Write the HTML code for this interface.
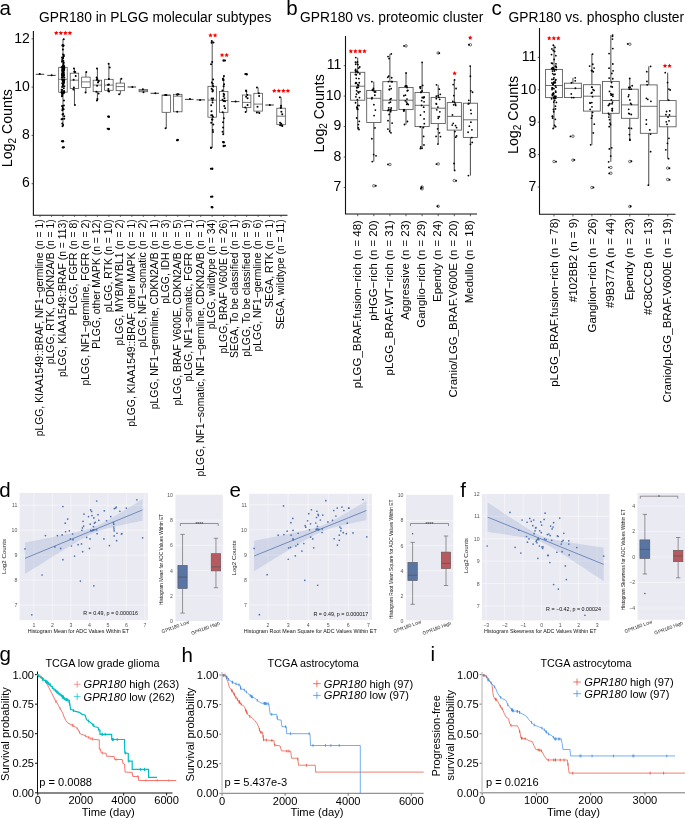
<!DOCTYPE html>
<html><head><meta charset="utf-8"><style>
html,body{margin:0;padding:0;background:#fff;width:685px;height:818px;overflow:hidden}
svg{display:block;will-change:transform;font-family:"Liberation Sans",sans-serif}
</style></head><body>
<svg width="685" height="818" viewBox="0 0 685 818">
<rect width="685" height="818" fill="#fff"/>
<text x="-0.50" y="14.70" text-anchor="start" fill="#000" style="font-size:20.5px;" >a</text>
<text x="286.30" y="14.70" text-anchor="start" fill="#000" style="font-size:20.5px;" >b</text>
<text x="491.60" y="14.70" text-anchor="start" fill="#000" style="font-size:20.5px;" >c</text>
<text x="-0.80" y="496.70" text-anchor="start" fill="#000" style="font-size:20.5px;" >d</text>
<text x="229.40" y="497.20" text-anchor="start" fill="#000" style="font-size:20.5px;" >e</text>
<text x="460.20" y="497.20" text-anchor="start" fill="#000" style="font-size:20.5px;" >f</text>
<text x="-0.60" y="660.80" text-anchor="start" fill="#000" style="font-size:20.5px;" >g</text>
<text x="181.60" y="661.50" text-anchor="start" fill="#000" style="font-size:20.5px;" >h</text>
<text x="430.60" y="660.80" text-anchor="start" fill="#000" style="font-size:20.5px;" >i</text>
<line x1="33.40" y1="31.00" x2="33.40" y2="215.30" stroke="#111" stroke-width="1.1" />
<line x1="32.90" y1="215.30" x2="287.50" y2="215.30" stroke="#111" stroke-width="1.1" />
<line x1="31.60" y1="38.80" x2="33.40" y2="38.80" stroke="#333" stroke-width="0.8" />
<text x="29.80" y="42.50" text-anchor="end" fill="#000" style="font-size:14.0px;" >12</text>
<line x1="31.60" y1="87.10" x2="33.40" y2="87.10" stroke="#333" stroke-width="0.8" />
<text x="29.80" y="90.80" text-anchor="end" fill="#000" style="font-size:14.0px;" >10</text>
<line x1="31.60" y1="135.40" x2="33.40" y2="135.40" stroke="#333" stroke-width="0.8" />
<text x="29.80" y="139.10" text-anchor="end" fill="#000" style="font-size:14.0px;" >8</text>
<line x1="31.60" y1="183.70" x2="33.40" y2="183.70" stroke="#333" stroke-width="0.8" />
<text x="29.80" y="187.40" text-anchor="end" fill="#000" style="font-size:14.0px;" >6</text>
<text x="39.00" y="21.90" text-anchor="start" fill="#000" style="font-size:13.8px;" >GPR180 in PLGG molecular subtypes</text>
<text transform="translate(12.3,167.2) rotate(-90)" style="font-size:14.2px" fill="#000">Log<tspan dy="3.5" style="font-size:10px">2</tspan><tspan dy="-3.5"> Counts</tspan></text>
<line x1="40.00" y1="215.30" x2="40.00" y2="216.90" stroke="#333" stroke-width="0.8" />
<text transform="translate(43.00,219.20) rotate(-90)" text-anchor="end" fill="#000" style="font-size:10.4px;" >pLGG, KIAA1549::BRAF, NF1−germline (n = 1)</text>
<line x1="51.48" y1="215.30" x2="51.48" y2="216.90" stroke="#333" stroke-width="0.8" />
<text transform="translate(54.48,219.20) rotate(-90)" text-anchor="end" fill="#000" style="font-size:10.4px;" >pLGG, RTK, CDKN2A/B (n = 1)</text>
<line x1="62.96" y1="215.30" x2="62.96" y2="216.90" stroke="#333" stroke-width="0.8" />
<text transform="translate(65.96,219.20) rotate(-90)" text-anchor="end" fill="#000" style="font-size:10.4px;" >pLGG, KIAA1549::BRAF (n = 113)</text>
<line x1="74.44" y1="215.30" x2="74.44" y2="216.90" stroke="#333" stroke-width="0.8" />
<text transform="translate(77.44,219.20) rotate(-90)" text-anchor="end" fill="#000" style="font-size:10.4px;" >PLGG, FGFR (n = 8)</text>
<line x1="85.92" y1="215.30" x2="85.92" y2="216.90" stroke="#333" stroke-width="0.8" />
<text transform="translate(88.92,219.20) rotate(-90)" text-anchor="end" fill="#000" style="font-size:10.4px;" >pLGG, NF1−germline, FGFR (n = 2)</text>
<line x1="97.40" y1="215.30" x2="97.40" y2="216.90" stroke="#333" stroke-width="0.8" />
<text transform="translate(100.40,219.20) rotate(-90)" text-anchor="end" fill="#000" style="font-size:10.4px;" >PLGG, other MAPK (n = 12)</text>
<line x1="108.88" y1="215.30" x2="108.88" y2="216.90" stroke="#333" stroke-width="0.8" />
<text transform="translate(111.88,219.20) rotate(-90)" text-anchor="end" fill="#000" style="font-size:10.4px;" >pLGG, RTK (n = 10)</text>
<line x1="120.36" y1="215.30" x2="120.36" y2="216.90" stroke="#333" stroke-width="0.8" />
<text transform="translate(123.36,219.20) rotate(-90)" text-anchor="end" fill="#000" style="font-size:10.4px;" >pLGG, MYB/MYBL1 (n = 2)</text>
<line x1="131.84" y1="215.30" x2="131.84" y2="216.90" stroke="#333" stroke-width="0.8" />
<text transform="translate(134.84,219.20) rotate(-90)" text-anchor="end" fill="#000" style="font-size:10.4px;" >pLGG, KIAA1549::BRAF, other MAPK (n = 1)</text>
<line x1="143.32" y1="215.30" x2="143.32" y2="216.90" stroke="#333" stroke-width="0.8" />
<text transform="translate(146.32,219.20) rotate(-90)" text-anchor="end" fill="#000" style="font-size:10.4px;" >pLGG, NF1−somatic (n = 2)</text>
<line x1="154.80" y1="215.30" x2="154.80" y2="216.90" stroke="#333" stroke-width="0.8" />
<text transform="translate(157.80,219.20) rotate(-90)" text-anchor="end" fill="#000" style="font-size:10.4px;" >pLGG, NF1−germline, CDKN2A/B (n = 1)</text>
<line x1="166.28" y1="215.30" x2="166.28" y2="216.90" stroke="#333" stroke-width="0.8" />
<text transform="translate(169.28,219.20) rotate(-90)" text-anchor="end" fill="#000" style="font-size:10.4px;" >pLGG, IDH (n = 3)</text>
<line x1="177.76" y1="215.30" x2="177.76" y2="216.90" stroke="#333" stroke-width="0.8" />
<text transform="translate(180.76,219.20) rotate(-90)" text-anchor="end" fill="#000" style="font-size:10.4px;" >pLGG, BRAF V600E, CDKN2A/B (n = 5)</text>
<line x1="189.24" y1="215.30" x2="189.24" y2="216.90" stroke="#333" stroke-width="0.8" />
<text transform="translate(192.24,219.20) rotate(-90)" text-anchor="end" fill="#000" style="font-size:10.4px;" >pLGG, NF1−somatic, FGFR (n = 1)</text>
<line x1="200.72" y1="215.30" x2="200.72" y2="216.90" stroke="#333" stroke-width="0.8" />
<text transform="translate(203.72,219.20) rotate(-90)" text-anchor="end" fill="#000" style="font-size:10.4px;" >pLGG, NF1−somatic, NF1−germline, CDKN2A/B (n = 1)</text>
<line x1="212.20" y1="215.30" x2="212.20" y2="216.90" stroke="#333" stroke-width="0.8" />
<text transform="translate(215.20,219.20) rotate(-90)" text-anchor="end" fill="#000" style="font-size:10.4px;" >pLGG, wildtype (n = 34)</text>
<line x1="223.68" y1="215.30" x2="223.68" y2="216.90" stroke="#333" stroke-width="0.8" />
<text transform="translate(226.68,219.20) rotate(-90)" text-anchor="end" fill="#000" style="font-size:10.4px;" >pLGG, BRAF V600E (n = 26)</text>
<line x1="235.16" y1="215.30" x2="235.16" y2="216.90" stroke="#333" stroke-width="0.8" />
<text transform="translate(238.16,219.20) rotate(-90)" text-anchor="end" fill="#000" style="font-size:10.4px;" >SEGA, To be classified (n = 1)</text>
<line x1="246.64" y1="215.30" x2="246.64" y2="216.90" stroke="#333" stroke-width="0.8" />
<text transform="translate(249.64,219.20) rotate(-90)" text-anchor="end" fill="#000" style="font-size:10.4px;" >pLGG, To be classified (n = 9)</text>
<line x1="258.12" y1="215.30" x2="258.12" y2="216.90" stroke="#333" stroke-width="0.8" />
<text transform="translate(261.12,219.20) rotate(-90)" text-anchor="end" fill="#000" style="font-size:10.4px;" >pLGG, NF1−germline (n = 6)</text>
<line x1="269.60" y1="215.30" x2="269.60" y2="216.90" stroke="#333" stroke-width="0.8" />
<text transform="translate(272.60,219.20) rotate(-90)" text-anchor="end" fill="#000" style="font-size:10.4px;" >SEGA, RTK (n = 1)</text>
<line x1="281.08" y1="215.30" x2="281.08" y2="216.90" stroke="#333" stroke-width="0.8" />
<text transform="translate(284.08,219.20) rotate(-90)" text-anchor="end" fill="#000" style="font-size:10.4px;" >SEGA, wildtype (n = 11)</text>
<line x1="35.75" y1="74.30" x2="44.25" y2="74.30" stroke="#222" stroke-width="0.9" />
<circle cx="39.75" cy="74.09" r="1.0" fill="#000" />
<line x1="47.23" y1="75.40" x2="55.73" y2="75.40" stroke="#222" stroke-width="0.9" />
<circle cx="51.69" cy="75.14" r="1.0" fill="#000" />
<line x1="62.96" y1="39.20" x2="62.96" y2="67.30" stroke="#1a1a1a" stroke-width="0.75" />
<line x1="62.96" y1="92.20" x2="62.96" y2="126.20" stroke="#1a1a1a" stroke-width="0.75" />
<rect x="58.71" y="67.30" width="8.50" height="24.90" fill="none" stroke="#4a4a4a" stroke-width="0.75" />
<line x1="58.71" y1="79.30" x2="67.21" y2="79.30" stroke="#4a4a4a" stroke-width="0.75" />
<circle cx="63.74" cy="39.20" r="1.0" fill="#000" />
<circle cx="62.48" cy="126.20" r="1.0" fill="#000" />
<circle cx="62.18" cy="57.57" r="1.0" fill="#000" />
<circle cx="63.83" cy="68.00" r="1.0" fill="#000" />
<circle cx="64.32" cy="79.78" r="1.0" fill="#000" />
<circle cx="63.95" cy="100.42" r="1.0" fill="#000" />
<circle cx="63.82" cy="67.00" r="1.0" fill="#000" />
<circle cx="63.85" cy="72.39" r="1.0" fill="#000" />
<circle cx="63.63" cy="80.90" r="1.0" fill="#000" />
<circle cx="62.19" cy="94.86" r="1.0" fill="#000" />
<circle cx="63.01" cy="54.58" r="1.0" fill="#000" />
<circle cx="62.56" cy="74.23" r="1.0" fill="#000" />
<circle cx="61.64" cy="91.89" r="1.0" fill="#000" />
<circle cx="61.64" cy="92.39" r="1.0" fill="#000" />
<circle cx="62.34" cy="45.62" r="1.0" fill="#000" />
<circle cx="62.29" cy="69.03" r="1.0" fill="#000" />
<circle cx="63.50" cy="83.28" r="1.0" fill="#000" />
<circle cx="64.24" cy="116.27" r="1.0" fill="#000" />
<circle cx="62.81" cy="65.77" r="1.0" fill="#000" />
<circle cx="64.18" cy="74.97" r="1.0" fill="#000" />
<circle cx="64.33" cy="86.37" r="1.0" fill="#000" />
<circle cx="64.23" cy="92.51" r="1.0" fill="#000" />
<circle cx="62.58" cy="67.07" r="1.0" fill="#000" />
<circle cx="62.18" cy="75.46" r="1.0" fill="#000" />
<circle cx="62.20" cy="83.35" r="1.0" fill="#000" />
<circle cx="62.11" cy="105.89" r="1.0" fill="#000" />
<circle cx="62.13" cy="59.98" r="1.0" fill="#000" />
<circle cx="63.31" cy="76.83" r="1.0" fill="#000" />
<circle cx="64.08" cy="82.45" r="1.0" fill="#000" />
<circle cx="63.91" cy="105.45" r="1.0" fill="#000" />
<circle cx="62.90" cy="57.90" r="1.0" fill="#000" />
<circle cx="63.39" cy="76.05" r="1.0" fill="#000" />
<circle cx="63.80" cy="91.94" r="1.0" fill="#000" />
<circle cx="61.80" cy="93.10" r="1.0" fill="#000" />
<circle cx="63.41" cy="60.92" r="1.0" fill="#000" />
<circle cx="64.11" cy="69.12" r="1.0" fill="#000" />
<circle cx="63.75" cy="79.81" r="1.0" fill="#000" />
<circle cx="63.66" cy="109.33" r="1.0" fill="#000" />
<circle cx="62.90" cy="49.50" r="1.0" fill="#000" />
<circle cx="62.06" cy="77.81" r="1.0" fill="#000" />
<circle cx="63.77" cy="88.27" r="1.0" fill="#000" />
<circle cx="62.49" cy="106.24" r="1.0" fill="#000" />
<circle cx="63.80" cy="56.17" r="1.0" fill="#000" />
<circle cx="64.28" cy="77.38" r="1.0" fill="#000" />
<circle cx="62.67" cy="85.42" r="1.0" fill="#000" />
<circle cx="62.68" cy="109.16" r="1.0" fill="#000" />
<circle cx="64.21" cy="67.06" r="1.0" fill="#000" />
<circle cx="63.59" cy="75.07" r="1.0" fill="#000" />
<circle cx="62.04" cy="89.90" r="1.0" fill="#000" />
<circle cx="61.92" cy="96.21" r="1.0" fill="#000" />
<circle cx="61.98" cy="61.73" r="1.0" fill="#000" />
<circle cx="64.09" cy="67.57" r="1.0" fill="#000" />
<circle cx="63.82" cy="81.47" r="1.0" fill="#000" />
<circle cx="61.97" cy="93.09" r="1.0" fill="#000" />
<circle cx="63.87" cy="67.07" r="1.0" fill="#000" />
<circle cx="64.30" cy="68.85" r="1.0" fill="#000" />
<circle cx="63.40" cy="84.34" r="1.0" fill="#000" />
<circle cx="62.54" cy="119.11" r="1.0" fill="#000" />
<circle cx="63.10" cy="66.91" r="1.0" fill="#000" />
<circle cx="61.93" cy="73.89" r="1.0" fill="#000" />
<circle cx="61.60" cy="89.87" r="1.0" fill="#000" />
<circle cx="64.28" cy="118.72" r="1.0" fill="#000" />
<circle cx="63.38" cy="64.10" r="1.0" fill="#000" />
<circle cx="63.03" cy="71.61" r="1.0" fill="#000" />
<circle cx="64.17" cy="91.65" r="1.0" fill="#000" />
<circle cx="62.77" cy="93.57" r="1.0" fill="#000" />
<circle cx="64.00" cy="65.83" r="1.0" fill="#000" />
<circle cx="63.87" cy="70.10" r="1.0" fill="#000" />
<circle cx="62.15" cy="86.90" r="1.0" fill="#000" />
<circle cx="62.27" cy="95.71" r="1.0" fill="#000" />
<circle cx="62.38" cy="67.30" r="1.0" fill="#000" />
<circle cx="62.23" cy="71.73" r="1.0" fill="#000" />
<circle cx="63.20" cy="91.59" r="1.0" fill="#000" />
<circle cx="62.29" cy="110.32" r="1.0" fill="#000" />
<circle cx="62.73" cy="58.19" r="1.0" fill="#000" />
<circle cx="61.93" cy="75.41" r="1.0" fill="#000" />
<circle cx="64.11" cy="90.90" r="1.0" fill="#000" />
<circle cx="62.55" cy="114.48" r="1.0" fill="#000" />
<circle cx="62.84" cy="44.93" r="1.0" fill="#000" />
<circle cx="63.19" cy="72.01" r="1.0" fill="#000" />
<circle cx="64.09" cy="80.64" r="1.0" fill="#000" />
<circle cx="62.74" cy="107.88" r="1.0" fill="#000" />
<circle cx="64.13" cy="67.05" r="1.0" fill="#000" />
<circle cx="62.96" cy="69.81" r="1.0" fill="#000" />
<circle cx="63.05" cy="83.69" r="1.0" fill="#000" />
<circle cx="63.03" cy="92.43" r="1.0" fill="#000" />
<circle cx="61.61" cy="67.30" r="1.0" fill="#000" />
<circle cx="62.79" cy="68.52" r="1.0" fill="#000" />
<circle cx="62.07" cy="79.63" r="1.0" fill="#000" />
<circle cx="61.57" cy="119.26" r="1.0" fill="#000" />
<circle cx="63.80" cy="55.03" r="1.0" fill="#000" />
<circle cx="62.04" cy="70.33" r="1.0" fill="#000" />
<circle cx="62.89" cy="84.00" r="1.0" fill="#000" />
<circle cx="63.59" cy="93.16" r="1.0" fill="#000" />
<circle cx="63.12" cy="46.03" r="1.0" fill="#000" />
<circle cx="62.47" cy="72.89" r="1.0" fill="#000" />
<circle cx="63.01" cy="80.41" r="1.0" fill="#000" />
<circle cx="63.12" cy="92.90" r="1.0" fill="#000" />
<circle cx="63.76" cy="62.75" r="1.0" fill="#000" />
<circle cx="61.86" cy="77.25" r="1.0" fill="#000" />
<circle cx="63.13" cy="79.60" r="1.0" fill="#000" />
<circle cx="62.26" cy="123.42" r="1.0" fill="#000" />
<circle cx="62.34" cy="57.80" r="1.0" fill="#000" />
<circle cx="63.72" cy="73.82" r="1.0" fill="#000" />
<circle cx="62.98" cy="86.11" r="1.0" fill="#000" />
<circle cx="63.13" cy="124.97" r="1.0" fill="#000" />
<circle cx="63.69" cy="45.41" r="1.0" fill="#000" />
<circle cx="64.11" cy="70.43" r="1.0" fill="#000" />
<circle cx="62.80" cy="81.45" r="1.0" fill="#000" />
<circle cx="63.28" cy="114.10" r="1.0" fill="#000" />
<circle cx="62.98" cy="57.67" r="1.0" fill="#000" />
<circle cx="62.96" cy="141.30" r="1.2" fill="#000" />
<circle cx="61.81" cy="141.27" r="1.0" fill="#000" />
<circle cx="62.96" cy="147.40" r="1.2" fill="#000" />
<circle cx="63.97" cy="147.25" r="1.0" fill="#000" />
<line x1="74.44" y1="68.50" x2="74.44" y2="73.20" stroke="#1a1a1a" stroke-width="0.75" />
<line x1="74.44" y1="88.50" x2="74.44" y2="105.00" stroke="#1a1a1a" stroke-width="0.75" />
<rect x="70.19" y="73.20" width="8.50" height="15.30" fill="none" stroke="#4a4a4a" stroke-width="0.75" />
<line x1="70.19" y1="80.20" x2="78.69" y2="80.20" stroke="#4a4a4a" stroke-width="0.75" />
<circle cx="73.92" cy="68.50" r="1.0" fill="#000" />
<circle cx="74.92" cy="105.00" r="1.0" fill="#000" />
<circle cx="74.24" cy="71.64" r="1.0" fill="#000" />
<circle cx="73.64" cy="79.69" r="1.0" fill="#000" />
<circle cx="73.89" cy="87.61" r="1.0" fill="#000" />
<circle cx="73.38" cy="89.59" r="1.0" fill="#000" />
<circle cx="75.22" cy="72.00" r="1.0" fill="#000" />
<circle cx="75.67" cy="75.95" r="1.0" fill="#000" />
<line x1="85.92" y1="72.00" x2="85.92" y2="77.10" stroke="#1a1a1a" stroke-width="0.75" />
<line x1="85.92" y1="87.50" x2="85.92" y2="92.40" stroke="#1a1a1a" stroke-width="0.75" />
<rect x="81.67" y="77.10" width="8.50" height="10.40" fill="none" stroke="#4a4a4a" stroke-width="0.75" />
<line x1="81.67" y1="81.90" x2="90.17" y2="81.90" stroke="#4a4a4a" stroke-width="0.75" />
<circle cx="86.32" cy="72.00" r="1.0" fill="#000" />
<circle cx="85.55" cy="92.40" r="1.0" fill="#000" />
<line x1="97.40" y1="68.50" x2="97.40" y2="80.20" stroke="#1a1a1a" stroke-width="0.75" />
<line x1="97.40" y1="91.70" x2="97.40" y2="100.60" stroke="#1a1a1a" stroke-width="0.75" />
<rect x="93.15" y="80.20" width="8.50" height="11.50" fill="none" stroke="#4a4a4a" stroke-width="0.75" />
<line x1="93.15" y1="85.10" x2="101.65" y2="85.10" stroke="#4a4a4a" stroke-width="0.75" />
<circle cx="97.02" cy="68.50" r="1.0" fill="#000" />
<circle cx="96.95" cy="100.60" r="1.0" fill="#000" />
<circle cx="97.28" cy="79.07" r="1.0" fill="#000" />
<circle cx="97.97" cy="82.49" r="1.0" fill="#000" />
<circle cx="97.08" cy="85.72" r="1.0" fill="#000" />
<circle cx="97.45" cy="98.93" r="1.0" fill="#000" />
<circle cx="96.83" cy="79.67" r="1.0" fill="#000" />
<circle cx="98.69" cy="81.30" r="1.0" fill="#000" />
<circle cx="96.32" cy="91.66" r="1.0" fill="#000" />
<circle cx="98.57" cy="93.60" r="1.0" fill="#000" />
<circle cx="96.64" cy="77.51" r="1.0" fill="#000" />
<circle cx="98.45" cy="80.65" r="1.0" fill="#000" />
<line x1="108.88" y1="63.70" x2="108.88" y2="79.30" stroke="#1a1a1a" stroke-width="0.75" />
<line x1="108.88" y1="90.30" x2="108.88" y2="91.40" stroke="#1a1a1a" stroke-width="0.75" />
<rect x="104.63" y="79.30" width="8.50" height="11.00" fill="none" stroke="#4a4a4a" stroke-width="0.75" />
<line x1="104.63" y1="85.10" x2="113.13" y2="85.10" stroke="#4a4a4a" stroke-width="0.75" />
<circle cx="108.62" cy="63.70" r="1.0" fill="#000" />
<circle cx="108.98" cy="91.40" r="1.0" fill="#000" />
<circle cx="108.92" cy="79.07" r="1.0" fill="#000" />
<circle cx="108.86" cy="84.55" r="1.0" fill="#000" />
<circle cx="108.40" cy="89.03" r="1.0" fill="#000" />
<circle cx="108.26" cy="91.08" r="1.0" fill="#000" />
<circle cx="109.72" cy="67.48" r="1.0" fill="#000" />
<circle cx="107.99" cy="84.79" r="1.0" fill="#000" />
<circle cx="108.88" cy="116.80" r="1.2" fill="#000" />
<circle cx="108.06" cy="116.51" r="1.0" fill="#000" />
<circle cx="108.88" cy="129.00" r="1.2" fill="#000" />
<circle cx="107.64" cy="128.75" r="1.0" fill="#000" />
<line x1="120.36" y1="78.70" x2="120.36" y2="83.10" stroke="#1a1a1a" stroke-width="0.75" />
<line x1="120.36" y1="90.70" x2="120.36" y2="94.30" stroke="#1a1a1a" stroke-width="0.75" />
<rect x="116.11" y="83.10" width="8.50" height="7.60" fill="none" stroke="#4a4a4a" stroke-width="0.75" />
<line x1="116.11" y1="86.60" x2="124.61" y2="86.60" stroke="#4a4a4a" stroke-width="0.75" />
<circle cx="121.36" cy="78.70" r="1.0" fill="#000" />
<circle cx="119.15" cy="94.30" r="1.0" fill="#000" />
<line x1="127.59" y1="87.00" x2="136.09" y2="87.00" stroke="#222" stroke-width="0.9" />
<circle cx="132.35" cy="86.97" r="1.0" fill="#000" />
<line x1="143.32" y1="89.20" x2="143.32" y2="89.60" stroke="#1a1a1a" stroke-width="0.75" />
<line x1="143.32" y1="91.80" x2="143.32" y2="92.20" stroke="#1a1a1a" stroke-width="0.75" />
<rect x="139.07" y="89.60" width="8.50" height="2.20" fill="none" stroke="#4a4a4a" stroke-width="0.75" />
<line x1="139.07" y1="90.70" x2="147.57" y2="90.70" stroke="#4a4a4a" stroke-width="0.75" />
<circle cx="142.87" cy="89.20" r="1.0" fill="#000" />
<circle cx="143.47" cy="92.20" r="1.0" fill="#000" />
<line x1="150.55" y1="93.30" x2="159.05" y2="93.30" stroke="#222" stroke-width="0.9" />
<circle cx="155.40" cy="93.16" r="1.0" fill="#000" />
<line x1="166.28" y1="95.00" x2="166.28" y2="95.00" stroke="#1a1a1a" stroke-width="0.75" />
<line x1="166.28" y1="112.30" x2="166.28" y2="128.30" stroke="#1a1a1a" stroke-width="0.75" />
<rect x="162.03" y="95.00" width="8.50" height="17.30" fill="none" stroke="#4a4a4a" stroke-width="0.75" />
<line x1="162.03" y1="95.40" x2="170.53" y2="95.40" stroke="#4a4a4a" stroke-width="0.75" />
<circle cx="166.36" cy="95.00" r="1.0" fill="#000" />
<circle cx="165.55" cy="128.30" r="1.0" fill="#000" />
<circle cx="165.19" cy="95.00" r="1.0" fill="#000" />
<line x1="177.76" y1="94.30" x2="177.76" y2="94.30" stroke="#1a1a1a" stroke-width="0.75" />
<line x1="177.76" y1="111.80" x2="177.76" y2="111.80" stroke="#1a1a1a" stroke-width="0.75" />
<rect x="173.51" y="94.30" width="8.50" height="17.50" fill="none" stroke="#4a4a4a" stroke-width="0.75" />
<line x1="173.51" y1="96.20" x2="182.01" y2="96.20" stroke="#4a4a4a" stroke-width="0.75" />
<circle cx="177.23" cy="94.30" r="1.0" fill="#000" />
<circle cx="177.21" cy="111.80" r="1.0" fill="#000" />
<circle cx="178.49" cy="94.30" r="1.0" fill="#000" />
<circle cx="177.17" cy="94.68" r="1.0" fill="#000" />
<circle cx="177.76" cy="140.00" r="1.2" fill="#000" />
<circle cx="176.94" cy="140.18" r="1.0" fill="#000" />
<line x1="184.99" y1="99.40" x2="193.49" y2="99.40" stroke="#222" stroke-width="0.9" />
<circle cx="189.93" cy="99.12" r="1.0" fill="#000" />
<line x1="196.47" y1="99.90" x2="204.97" y2="99.90" stroke="#222" stroke-width="0.9" />
<circle cx="200.05" cy="99.90" r="1.0" fill="#000" />
<line x1="212.20" y1="41.10" x2="212.20" y2="86.30" stroke="#1a1a1a" stroke-width="0.75" />
<line x1="212.20" y1="117.20" x2="212.20" y2="148.00" stroke="#1a1a1a" stroke-width="0.75" />
<rect x="207.95" y="86.30" width="8.50" height="30.90" fill="none" stroke="#4a4a4a" stroke-width="0.75" />
<line x1="207.95" y1="100.10" x2="216.45" y2="100.10" stroke="#4a4a4a" stroke-width="0.75" />
<circle cx="211.74" cy="41.10" r="1.0" fill="#000" />
<circle cx="211.03" cy="148.00" r="1.0" fill="#000" />
<circle cx="211.58" cy="42.77" r="1.0" fill="#000" />
<circle cx="212.64" cy="89.69" r="1.0" fill="#000" />
<circle cx="211.49" cy="111.36" r="1.0" fill="#000" />
<circle cx="212.97" cy="132.01" r="1.0" fill="#000" />
<circle cx="211.05" cy="64.20" r="1.0" fill="#000" />
<circle cx="213.09" cy="98.56" r="1.0" fill="#000" />
<circle cx="211.20" cy="105.36" r="1.0" fill="#000" />
<circle cx="212.44" cy="119.46" r="1.0" fill="#000" />
<circle cx="211.90" cy="82.60" r="1.0" fill="#000" />
<circle cx="211.64" cy="98.47" r="1.0" fill="#000" />
<circle cx="212.56" cy="102.49" r="1.0" fill="#000" />
<circle cx="211.04" cy="147.45" r="1.0" fill="#000" />
<circle cx="213.48" cy="42.48" r="1.0" fill="#000" />
<circle cx="213.19" cy="86.50" r="1.0" fill="#000" />
<circle cx="211.23" cy="115.15" r="1.0" fill="#000" />
<circle cx="213.30" cy="124.56" r="1.0" fill="#000" />
<circle cx="213.00" cy="85.97" r="1.0" fill="#000" />
<circle cx="212.47" cy="91.56" r="1.0" fill="#000" />
<circle cx="212.94" cy="116.70" r="1.0" fill="#000" />
<circle cx="212.82" cy="130.08" r="1.0" fill="#000" />
<circle cx="212.18" cy="62.09" r="1.0" fill="#000" />
<circle cx="211.60" cy="88.86" r="1.0" fill="#000" />
<circle cx="212.53" cy="100.16" r="1.0" fill="#000" />
<circle cx="211.21" cy="122.73" r="1.0" fill="#000" />
<circle cx="213.11" cy="79.47" r="1.0" fill="#000" />
<circle cx="212.80" cy="90.76" r="1.0" fill="#000" />
<circle cx="212.24" cy="115.19" r="1.0" fill="#000" />
<circle cx="212.00" cy="119.51" r="1.0" fill="#000" />
<circle cx="212.76" cy="83.78" r="1.0" fill="#000" />
<circle cx="212.20" cy="168.70" r="1.2" fill="#000" />
<circle cx="210.87" cy="168.85" r="1.0" fill="#000" />
<circle cx="212.20" cy="196.60" r="1.2" fill="#000" />
<circle cx="210.94" cy="196.65" r="1.0" fill="#000" />
<circle cx="212.20" cy="207.20" r="1.2" fill="#000" />
<circle cx="211.53" cy="206.93" r="1.0" fill="#000" />
<line x1="223.68" y1="76.10" x2="223.68" y2="91.40" stroke="#1a1a1a" stroke-width="0.75" />
<line x1="223.68" y1="112.30" x2="223.68" y2="134.20" stroke="#1a1a1a" stroke-width="0.75" />
<rect x="219.43" y="91.40" width="8.50" height="20.90" fill="none" stroke="#4a4a4a" stroke-width="0.75" />
<line x1="219.43" y1="100.50" x2="227.93" y2="100.50" stroke="#4a4a4a" stroke-width="0.75" />
<circle cx="223.96" cy="76.10" r="1.0" fill="#000" />
<circle cx="223.21" cy="134.20" r="1.0" fill="#000" />
<circle cx="224.10" cy="84.29" r="1.0" fill="#000" />
<circle cx="224.22" cy="94.83" r="1.0" fill="#000" />
<circle cx="224.02" cy="101.10" r="1.0" fill="#000" />
<circle cx="222.65" cy="112.33" r="1.0" fill="#000" />
<circle cx="223.63" cy="86.18" r="1.0" fill="#000" />
<circle cx="223.64" cy="93.80" r="1.0" fill="#000" />
<circle cx="225.00" cy="101.33" r="1.0" fill="#000" />
<circle cx="222.56" cy="131.75" r="1.0" fill="#000" />
<circle cx="222.89" cy="78.66" r="1.0" fill="#000" />
<circle cx="223.65" cy="96.19" r="1.0" fill="#000" />
<circle cx="224.26" cy="106.09" r="1.0" fill="#000" />
<circle cx="223.08" cy="127.58" r="1.0" fill="#000" />
<circle cx="223.58" cy="79.88" r="1.0" fill="#000" />
<circle cx="224.43" cy="98.28" r="1.0" fill="#000" />
<circle cx="225.06" cy="108.17" r="1.0" fill="#000" />
<circle cx="223.82" cy="118.16" r="1.0" fill="#000" />
<circle cx="223.15" cy="79.90" r="1.0" fill="#000" />
<circle cx="222.52" cy="99.69" r="1.0" fill="#000" />
<circle cx="223.60" cy="101.05" r="1.0" fill="#000" />
<circle cx="223.09" cy="122.36" r="1.0" fill="#000" />
<circle cx="222.49" cy="90.42" r="1.0" fill="#000" />
<circle cx="223.68" cy="60.50" r="1.2" fill="#000" />
<circle cx="225.08" cy="60.43" r="1.0" fill="#000" />
<circle cx="223.68" cy="142.30" r="1.2" fill="#000" />
<circle cx="223.02" cy="142.05" r="1.0" fill="#000" />
<circle cx="223.68" cy="146.00" r="1.2" fill="#000" />
<circle cx="225.04" cy="145.78" r="1.0" fill="#000" />
<line x1="230.91" y1="101.60" x2="239.41" y2="101.60" stroke="#222" stroke-width="0.9" />
<circle cx="235.61" cy="101.61" r="1.0" fill="#000" />
<line x1="246.64" y1="90.40" x2="246.64" y2="95.00" stroke="#1a1a1a" stroke-width="0.75" />
<line x1="246.64" y1="107.50" x2="246.64" y2="111.90" stroke="#1a1a1a" stroke-width="0.75" />
<rect x="242.39" y="95.00" width="8.50" height="12.50" fill="none" stroke="#4a4a4a" stroke-width="0.75" />
<line x1="242.39" y1="102.40" x2="250.89" y2="102.40" stroke="#4a4a4a" stroke-width="0.75" />
<circle cx="246.09" cy="90.40" r="1.0" fill="#000" />
<circle cx="245.63" cy="111.90" r="1.0" fill="#000" />
<circle cx="246.20" cy="91.25" r="1.0" fill="#000" />
<circle cx="246.13" cy="96.71" r="1.0" fill="#000" />
<circle cx="247.59" cy="104.88" r="1.0" fill="#000" />
<circle cx="245.24" cy="107.51" r="1.0" fill="#000" />
<circle cx="247.34" cy="95.00" r="1.0" fill="#000" />
<circle cx="247.59" cy="98.34" r="1.0" fill="#000" />
<circle cx="246.64" cy="74.20" r="1.2" fill="#000" />
<circle cx="245.29" cy="74.02" r="1.0" fill="#000" />
<line x1="258.12" y1="87.50" x2="258.12" y2="93.30" stroke="#1a1a1a" stroke-width="0.75" />
<line x1="258.12" y1="111.10" x2="258.12" y2="113.00" stroke="#1a1a1a" stroke-width="0.75" />
<rect x="253.87" y="93.30" width="8.50" height="17.80" fill="none" stroke="#4a4a4a" stroke-width="0.75" />
<line x1="253.87" y1="104.10" x2="262.37" y2="104.10" stroke="#4a4a4a" stroke-width="0.75" />
<circle cx="256.93" cy="87.50" r="1.0" fill="#000" />
<circle cx="259.31" cy="113.00" r="1.0" fill="#000" />
<circle cx="258.84" cy="93.30" r="1.0" fill="#000" />
<circle cx="259.11" cy="96.03" r="1.0" fill="#000" />
<circle cx="257.51" cy="106.83" r="1.0" fill="#000" />
<circle cx="256.86" cy="112.60" r="1.0" fill="#000" />
<line x1="265.35" y1="105.00" x2="273.85" y2="105.00" stroke="#222" stroke-width="0.9" />
<circle cx="269.83" cy="105.08" r="1.0" fill="#000" />
<line x1="281.08" y1="97.30" x2="281.08" y2="108.20" stroke="#1a1a1a" stroke-width="0.75" />
<line x1="281.08" y1="124.70" x2="281.08" y2="126.00" stroke="#1a1a1a" stroke-width="0.75" />
<rect x="276.83" y="108.20" width="8.50" height="16.50" fill="none" stroke="#4a4a4a" stroke-width="0.75" />
<line x1="276.83" y1="116.20" x2="285.33" y2="116.20" stroke="#4a4a4a" stroke-width="0.75" />
<circle cx="279.91" cy="97.30" r="1.0" fill="#000" />
<circle cx="282.29" cy="126.00" r="1.0" fill="#000" />
<circle cx="280.83" cy="107.77" r="1.0" fill="#000" />
<circle cx="281.40" cy="111.69" r="1.0" fill="#000" />
<circle cx="280.07" cy="122.77" r="1.0" fill="#000" />
<circle cx="282.11" cy="125.56" r="1.0" fill="#000" />
<circle cx="281.04" cy="105.63" r="1.0" fill="#000" />
<circle cx="282.23" cy="114.29" r="1.0" fill="#000" />
<circle cx="281.22" cy="123.64" r="1.0" fill="#000" />
<circle cx="280.16" cy="125.18" r="1.0" fill="#000" />
<circle cx="280.84" cy="107.47" r="1.0" fill="#000" />
<polygon points="56.28,30.70 56.95,32.12 58.51,32.32 57.37,33.41 57.66,34.95 56.28,34.20 54.89,34.95 55.18,33.41 54.04,32.32 55.60,32.12" fill="#FF0000"/>
<polygon points="60.83,30.70 61.50,32.12 63.06,32.32 61.92,33.41 62.21,34.95 60.83,34.20 59.44,34.95 59.73,33.41 58.59,32.32 60.15,32.12" fill="#FF0000"/>
<polygon points="65.38,30.70 66.05,32.12 67.61,32.32 66.47,33.41 66.76,34.95 65.38,34.20 63.99,34.95 64.28,33.41 63.14,32.32 64.70,32.12" fill="#FF0000"/>
<polygon points="69.93,30.70 70.60,32.12 72.16,32.32 71.02,33.41 71.31,34.95 69.93,34.20 68.54,34.95 68.83,33.41 67.69,32.32 69.25,32.12" fill="#FF0000"/>
<polygon points="210.53,33.00 211.20,34.42 212.76,34.62 211.62,35.71 211.91,37.25 210.53,36.50 209.14,37.25 209.43,35.71 208.29,34.62 209.85,34.42" fill="#FF0000"/>
<polygon points="215.08,33.00 215.75,34.42 217.31,34.62 216.17,35.71 216.46,37.25 215.08,36.50 213.69,37.25 213.98,35.71 212.84,34.62 214.40,34.42" fill="#FF0000"/>
<polygon points="222.07,52.80 222.75,54.22 224.31,54.42 223.17,55.51 223.46,57.05 222.07,56.30 220.69,57.05 220.98,55.51 219.84,54.42 221.40,54.22" fill="#FF0000"/>
<polygon points="226.62,52.80 227.30,54.22 228.86,54.42 227.72,55.51 228.01,57.05 226.62,56.30 225.24,57.05 225.53,55.51 224.39,54.42 225.95,54.22" fill="#FF0000"/>
<polygon points="274.28,88.50 274.95,89.92 276.51,90.12 275.37,91.21 275.66,92.75 274.28,92.00 272.89,92.75 273.18,91.21 272.04,90.12 273.60,89.92" fill="#FF0000"/>
<polygon points="278.83,88.50 279.50,89.92 281.06,90.12 279.92,91.21 280.21,92.75 278.83,92.00 277.44,92.75 277.73,91.21 276.59,90.12 278.15,89.92" fill="#FF0000"/>
<polygon points="283.38,88.50 284.05,89.92 285.61,90.12 284.47,91.21 284.76,92.75 283.38,92.00 281.99,92.75 282.28,91.21 281.14,90.12 282.70,89.92" fill="#FF0000"/>
<polygon points="287.93,88.50 288.60,89.92 290.16,90.12 289.02,91.21 289.31,92.75 287.93,92.00 286.54,92.75 286.83,91.21 285.69,90.12 287.25,89.92" fill="#FF0000"/>
<line x1="345.50" y1="36.00" x2="345.50" y2="214.00" stroke="#111" stroke-width="1.1" />
<line x1="345.00" y1="214.00" x2="477.00" y2="214.00" stroke="#111" stroke-width="1.1" />
<line x1="343.70" y1="65.65" x2="345.50" y2="65.65" stroke="#333" stroke-width="0.8" />
<text x="341.30" y="69.35" text-anchor="end" fill="#000" style="font-size:14.0px;" >11</text>
<line x1="343.70" y1="96.10" x2="345.50" y2="96.10" stroke="#333" stroke-width="0.8" />
<text x="341.30" y="99.80" text-anchor="end" fill="#000" style="font-size:14.0px;" >10</text>
<line x1="343.70" y1="126.55" x2="345.50" y2="126.55" stroke="#333" stroke-width="0.8" />
<text x="341.30" y="130.25" text-anchor="end" fill="#000" style="font-size:14.0px;" >9</text>
<line x1="343.70" y1="157.00" x2="345.50" y2="157.00" stroke="#333" stroke-width="0.8" />
<text x="341.30" y="160.70" text-anchor="end" fill="#000" style="font-size:14.0px;" >8</text>
<line x1="343.70" y1="187.45" x2="345.50" y2="187.45" stroke="#333" stroke-width="0.8" />
<text x="341.30" y="191.15" text-anchor="end" fill="#000" style="font-size:14.0px;" >7</text>
<text x="300.10" y="21.70" text-anchor="start" fill="#000" style="font-size:13.8px;" >GPR180 vs. proteomic cluster</text>
<text transform="translate(323.9,152.4) rotate(-90)" style="font-size:14.2px" fill="#000">Log<tspan dy="3.5" style="font-size:10px">2</tspan><tspan dy="-3.5"> Counts</tspan></text>
<line x1="357.70" y1="214.00" x2="357.70" y2="216.20" stroke="#333" stroke-width="0.8" />
<text transform="translate(360.70,220.10) rotate(-90)" text-anchor="end" fill="#000" style="font-size:11.46px;" >pLGG_BRAF.fusion−rich (n = 48)</text>
<line x1="373.80" y1="214.00" x2="373.80" y2="216.20" stroke="#333" stroke-width="0.8" />
<text transform="translate(376.80,220.10) rotate(-90)" text-anchor="end" fill="#000" style="font-size:11.46px;" >pHGG−rich (n = 20)</text>
<line x1="389.90" y1="214.00" x2="389.90" y2="216.20" stroke="#333" stroke-width="0.8" />
<text transform="translate(392.90,220.10) rotate(-90)" text-anchor="end" fill="#000" style="font-size:11.46px;" >pLGG_BRAF.WT−rich (n = 31)</text>
<line x1="406.00" y1="214.00" x2="406.00" y2="216.20" stroke="#333" stroke-width="0.8" />
<text transform="translate(409.00,220.10) rotate(-90)" text-anchor="end" fill="#000" style="font-size:11.46px;" >Aggressive (n = 23)</text>
<line x1="422.10" y1="214.00" x2="422.10" y2="216.20" stroke="#333" stroke-width="0.8" />
<text transform="translate(425.10,220.10) rotate(-90)" text-anchor="end" fill="#000" style="font-size:11.46px;" >Ganglio−rich (n = 29)</text>
<line x1="438.20" y1="214.00" x2="438.20" y2="216.20" stroke="#333" stroke-width="0.8" />
<text transform="translate(441.20,220.10) rotate(-90)" text-anchor="end" fill="#000" style="font-size:11.46px;" >Ependy (n = 24)</text>
<line x1="454.30" y1="214.00" x2="454.30" y2="216.20" stroke="#333" stroke-width="0.8" />
<text transform="translate(457.30,220.10) rotate(-90)" text-anchor="end" fill="#000" style="font-size:11.46px;" >Cranio/LGG_BRAF.V600E (n = 20)</text>
<line x1="470.40" y1="214.00" x2="470.40" y2="216.20" stroke="#333" stroke-width="0.8" />
<text transform="translate(473.40,220.10) rotate(-90)" text-anchor="end" fill="#000" style="font-size:11.46px;" >Medullo (n = 18)</text>
<line x1="357.70" y1="57.60" x2="357.70" y2="72.30" stroke="#1a1a1a" stroke-width="0.8" />
<line x1="357.70" y1="100.20" x2="357.70" y2="129.50" stroke="#1a1a1a" stroke-width="0.8" />
<rect x="350.60" y="72.30" width="14.20" height="27.90" fill="none" stroke="#555" stroke-width="0.85" />
<line x1="350.60" y1="86.20" x2="364.80" y2="86.20" stroke="#555" stroke-width="0.85" />
<circle cx="355.79" cy="57.60" r="0.9" fill="#000" />
<circle cx="358.97" cy="129.50" r="0.9" fill="#000" />
<circle cx="355.41" cy="70.59" r="0.9" fill="#000" />
<circle cx="355.98" cy="82.57" r="0.9" fill="#000" />
<circle cx="358.02" cy="91.89" r="0.9" fill="#000" />
<circle cx="355.57" cy="102.77" r="0.9" fill="#000" />
<circle cx="358.69" cy="68.03" r="0.9" fill="#000" />
<circle cx="359.83" cy="73.96" r="0.9" fill="#000" />
<circle cx="358.28" cy="87.25" r="0.9" fill="#000" />
<circle cx="357.83" cy="109.24" r="0.9" fill="#000" />
<circle cx="357.41" cy="61.99" r="0.9" fill="#000" />
<circle cx="358.91" cy="78.60" r="0.9" fill="#000" />
<circle cx="355.86" cy="96.83" r="0.9" fill="#000" />
<circle cx="356.78" cy="107.11" r="0.9" fill="#000" />
<circle cx="359.74" cy="67.02" r="0.9" fill="#000" />
<circle cx="356.28" cy="74.73" r="0.9" fill="#000" />
<circle cx="356.60" cy="90.67" r="0.9" fill="#000" />
<circle cx="359.04" cy="105.56" r="0.9" fill="#000" />
<circle cx="355.41" cy="62.04" r="0.9" fill="#000" />
<circle cx="357.87" cy="72.58" r="0.9" fill="#000" />
<circle cx="359.98" cy="91.56" r="0.9" fill="#000" />
<circle cx="356.68" cy="118.00" r="0.9" fill="#000" />
<circle cx="356.86" cy="71.26" r="0.9" fill="#000" />
<circle cx="359.26" cy="82.75" r="0.9" fill="#000" />
<circle cx="356.51" cy="94.24" r="0.9" fill="#000" />
<circle cx="357.82" cy="105.36" r="0.9" fill="#000" />
<circle cx="357.92" cy="64.54" r="0.9" fill="#000" />
<circle cx="355.53" cy="83.29" r="0.9" fill="#000" />
<circle cx="357.29" cy="87.50" r="0.9" fill="#000" />
<circle cx="358.39" cy="124.55" r="0.9" fill="#000" />
<circle cx="355.65" cy="69.40" r="0.9" fill="#000" />
<circle cx="356.29" cy="78.30" r="0.9" fill="#000" />
<circle cx="359.47" cy="97.60" r="0.9" fill="#000" />
<circle cx="358.38" cy="127.93" r="0.9" fill="#000" />
<circle cx="355.77" cy="71.86" r="0.9" fill="#000" />
<circle cx="356.45" cy="82.92" r="0.9" fill="#000" />
<circle cx="357.35" cy="99.76" r="0.9" fill="#000" />
<circle cx="357.10" cy="108.91" r="0.9" fill="#000" />
<circle cx="357.67" cy="72.13" r="0.9" fill="#000" />
<circle cx="358.60" cy="85.20" r="0.9" fill="#000" />
<circle cx="358.70" cy="92.75" r="0.9" fill="#000" />
<circle cx="357.07" cy="107.71" r="0.9" fill="#000" />
<circle cx="357.22" cy="62.60" r="0.9" fill="#000" />
<circle cx="355.43" cy="74.41" r="0.9" fill="#000" />
<circle cx="356.74" cy="87.72" r="0.9" fill="#000" />
<circle cx="359.29" cy="121.34" r="0.9" fill="#000" />
<circle cx="355.71" cy="64.26" r="0.9" fill="#000" />
<circle cx="357.68" cy="84.74" r="0.9" fill="#000" />
<line x1="373.80" y1="81.70" x2="373.80" y2="90.50" stroke="#1a1a1a" stroke-width="0.8" />
<line x1="373.80" y1="122.50" x2="373.80" y2="161.60" stroke="#1a1a1a" stroke-width="0.8" />
<rect x="366.70" y="90.50" width="14.20" height="32.00" fill="none" stroke="#555" stroke-width="0.85" />
<line x1="366.70" y1="98.30" x2="380.90" y2="98.30" stroke="#555" stroke-width="0.85" />
<circle cx="371.87" cy="81.70" r="0.9" fill="#000" />
<circle cx="372.26" cy="161.60" r="0.9" fill="#000" />
<circle cx="372.38" cy="89.93" r="0.9" fill="#000" />
<circle cx="374.50" cy="92.01" r="0.9" fill="#000" />
<circle cx="373.91" cy="104.71" r="0.9" fill="#000" />
<circle cx="373.65" cy="154.53" r="0.9" fill="#000" />
<circle cx="372.93" cy="90.30" r="0.9" fill="#000" />
<circle cx="374.84" cy="95.26" r="0.9" fill="#000" />
<circle cx="375.36" cy="110.04" r="0.9" fill="#000" />
<circle cx="376.03" cy="155.83" r="0.9" fill="#000" />
<circle cx="373.54" cy="90.43" r="0.9" fill="#000" />
<circle cx="372.00" cy="97.69" r="0.9" fill="#000" />
<circle cx="371.86" cy="98.87" r="0.9" fill="#000" />
<circle cx="371.87" cy="138.73" r="0.9" fill="#000" />
<circle cx="373.43" cy="88.52" r="0.9" fill="#000" />
<circle cx="375.57" cy="91.94" r="0.9" fill="#000" />
<circle cx="374.08" cy="115.53" r="0.9" fill="#000" />
<circle cx="374.99" cy="127.96" r="0.9" fill="#000" />
<circle cx="373.25" cy="90.28" r="0.9" fill="#000" />
<circle cx="373.80" cy="185.80" r="1.25" fill="none" stroke="#111" stroke-width="0.6"/>
<circle cx="375.80" cy="185.76" r="0.9" fill="#000" />
<line x1="389.90" y1="53.90" x2="389.90" y2="81.70" stroke="#1a1a1a" stroke-width="0.8" />
<line x1="389.90" y1="110.40" x2="389.90" y2="132.80" stroke="#1a1a1a" stroke-width="0.8" />
<rect x="382.80" y="81.70" width="14.20" height="28.70" fill="none" stroke="#555" stroke-width="0.85" />
<line x1="382.80" y1="100.20" x2="397.00" y2="100.20" stroke="#555" stroke-width="0.85" />
<circle cx="391.29" cy="53.90" r="0.9" fill="#000" />
<circle cx="391.00" cy="132.80" r="0.9" fill="#000" />
<circle cx="391.38" cy="81.53" r="0.9" fill="#000" />
<circle cx="391.15" cy="88.60" r="0.9" fill="#000" />
<circle cx="390.39" cy="102.17" r="0.9" fill="#000" />
<circle cx="389.11" cy="114.42" r="0.9" fill="#000" />
<circle cx="389.07" cy="58.59" r="0.9" fill="#000" />
<circle cx="389.26" cy="89.30" r="0.9" fill="#000" />
<circle cx="391.20" cy="108.02" r="0.9" fill="#000" />
<circle cx="387.96" cy="110.50" r="0.9" fill="#000" />
<circle cx="388.51" cy="81.61" r="0.9" fill="#000" />
<circle cx="391.06" cy="98.72" r="0.9" fill="#000" />
<circle cx="388.74" cy="107.82" r="0.9" fill="#000" />
<circle cx="387.90" cy="129.08" r="0.9" fill="#000" />
<circle cx="387.76" cy="77.28" r="0.9" fill="#000" />
<circle cx="390.14" cy="99.42" r="0.9" fill="#000" />
<circle cx="389.10" cy="102.87" r="0.9" fill="#000" />
<circle cx="392.11" cy="123.11" r="0.9" fill="#000" />
<circle cx="391.66" cy="77.77" r="0.9" fill="#000" />
<circle cx="392.14" cy="81.77" r="0.9" fill="#000" />
<circle cx="388.82" cy="109.55" r="0.9" fill="#000" />
<circle cx="387.99" cy="120.72" r="0.9" fill="#000" />
<circle cx="388.04" cy="56.53" r="0.9" fill="#000" />
<circle cx="389.89" cy="86.03" r="0.9" fill="#000" />
<circle cx="390.86" cy="109.96" r="0.9" fill="#000" />
<circle cx="389.66" cy="131.07" r="0.9" fill="#000" />
<circle cx="388.68" cy="76.18" r="0.9" fill="#000" />
<circle cx="389.52" cy="89.65" r="0.9" fill="#000" />
<circle cx="390.45" cy="109.67" r="0.9" fill="#000" />
<circle cx="390.70" cy="111.65" r="0.9" fill="#000" />
<circle cx="389.90" cy="164.50" r="1.25" fill="none" stroke="#111" stroke-width="0.6"/>
<circle cx="387.97" cy="164.38" r="0.9" fill="#000" />
<line x1="406.00" y1="73.00" x2="406.00" y2="87.50" stroke="#1a1a1a" stroke-width="0.8" />
<line x1="406.00" y1="109.60" x2="406.00" y2="124.50" stroke="#1a1a1a" stroke-width="0.8" />
<rect x="398.90" y="87.50" width="14.20" height="22.10" fill="none" stroke="#555" stroke-width="0.85" />
<line x1="398.90" y1="100.20" x2="413.10" y2="100.20" stroke="#555" stroke-width="0.85" />
<circle cx="406.06" cy="73.00" r="0.9" fill="#000" />
<circle cx="404.52" cy="124.50" r="0.9" fill="#000" />
<circle cx="406.47" cy="85.84" r="0.9" fill="#000" />
<circle cx="407.26" cy="90.73" r="0.9" fill="#000" />
<circle cx="406.76" cy="104.33" r="0.9" fill="#000" />
<circle cx="403.73" cy="110.45" r="0.9" fill="#000" />
<circle cx="406.63" cy="86.26" r="0.9" fill="#000" />
<circle cx="406.96" cy="99.03" r="0.9" fill="#000" />
<circle cx="405.31" cy="100.81" r="0.9" fill="#000" />
<circle cx="403.87" cy="111.03" r="0.9" fill="#000" />
<circle cx="405.26" cy="86.16" r="0.9" fill="#000" />
<circle cx="403.90" cy="95.75" r="0.9" fill="#000" />
<circle cx="408.30" cy="104.56" r="0.9" fill="#000" />
<circle cx="403.88" cy="109.65" r="0.9" fill="#000" />
<circle cx="407.07" cy="87.50" r="0.9" fill="#000" />
<circle cx="407.90" cy="90.44" r="0.9" fill="#000" />
<circle cx="407.45" cy="103.71" r="0.9" fill="#000" />
<circle cx="407.47" cy="121.52" r="0.9" fill="#000" />
<circle cx="405.58" cy="86.28" r="0.9" fill="#000" />
<circle cx="405.41" cy="95.13" r="0.9" fill="#000" />
<circle cx="406.56" cy="102.03" r="0.9" fill="#000" />
<circle cx="404.06" cy="109.78" r="0.9" fill="#000" />
<circle cx="406.00" cy="45.90" r="1.25" fill="none" stroke="#111" stroke-width="0.6"/>
<circle cx="404.05" cy="45.93" r="0.9" fill="#000" />
<line x1="422.10" y1="62.30" x2="422.10" y2="92.40" stroke="#1a1a1a" stroke-width="0.8" />
<line x1="422.10" y1="126.60" x2="422.10" y2="148.50" stroke="#1a1a1a" stroke-width="0.8" />
<rect x="415.00" y="92.40" width="14.20" height="34.20" fill="none" stroke="#555" stroke-width="0.85" />
<line x1="415.00" y1="105.30" x2="429.20" y2="105.30" stroke="#555" stroke-width="0.85" />
<circle cx="422.12" cy="62.30" r="0.9" fill="#000" />
<circle cx="420.47" cy="148.50" r="0.9" fill="#000" />
<circle cx="421.10" cy="92.12" r="0.9" fill="#000" />
<circle cx="422.20" cy="97.50" r="0.9" fill="#000" />
<circle cx="424.06" cy="118.91" r="0.9" fill="#000" />
<circle cx="420.30" cy="126.97" r="0.9" fill="#000" />
<circle cx="422.06" cy="91.01" r="0.9" fill="#000" />
<circle cx="423.50" cy="97.69" r="0.9" fill="#000" />
<circle cx="424.25" cy="111.85" r="0.9" fill="#000" />
<circle cx="420.71" cy="146.79" r="0.9" fill="#000" />
<circle cx="420.38" cy="88.24" r="0.9" fill="#000" />
<circle cx="424.14" cy="97.01" r="0.9" fill="#000" />
<circle cx="424.29" cy="123.71" r="0.9" fill="#000" />
<circle cx="422.02" cy="148.37" r="0.9" fill="#000" />
<circle cx="420.05" cy="87.00" r="0.9" fill="#000" />
<circle cx="424.06" cy="101.79" r="0.9" fill="#000" />
<circle cx="421.58" cy="105.43" r="0.9" fill="#000" />
<circle cx="423.96" cy="144.97" r="0.9" fill="#000" />
<circle cx="422.65" cy="85.41" r="0.9" fill="#000" />
<circle cx="423.59" cy="97.64" r="0.9" fill="#000" />
<circle cx="420.54" cy="115.12" r="0.9" fill="#000" />
<circle cx="423.41" cy="127.60" r="0.9" fill="#000" />
<circle cx="420.82" cy="92.38" r="0.9" fill="#000" />
<circle cx="421.66" cy="100.66" r="0.9" fill="#000" />
<circle cx="423.69" cy="107.20" r="0.9" fill="#000" />
<circle cx="423.61" cy="136.38" r="0.9" fill="#000" />
<circle cx="420.64" cy="86.83" r="0.9" fill="#000" />
<circle cx="422.10" cy="187.00" r="1.25" fill="none" stroke="#111" stroke-width="0.6"/>
<circle cx="421.43" cy="187.26" r="0.9" fill="#000" />
<circle cx="422.10" cy="188.80" r="1.25" fill="none" stroke="#111" stroke-width="0.6"/>
<circle cx="420.85" cy="188.57" r="0.9" fill="#000" />
<line x1="438.20" y1="84.80" x2="438.20" y2="97.40" stroke="#1a1a1a" stroke-width="0.8" />
<line x1="438.20" y1="123.60" x2="438.20" y2="144.10" stroke="#1a1a1a" stroke-width="0.8" />
<rect x="431.10" y="97.40" width="14.20" height="26.20" fill="none" stroke="#555" stroke-width="0.85" />
<line x1="431.10" y1="108.20" x2="445.30" y2="108.20" stroke="#555" stroke-width="0.85" />
<circle cx="436.49" cy="84.80" r="0.9" fill="#000" />
<circle cx="437.88" cy="144.10" r="0.9" fill="#000" />
<circle cx="436.32" cy="96.23" r="0.9" fill="#000" />
<circle cx="437.93" cy="107.09" r="0.9" fill="#000" />
<circle cx="438.25" cy="116.86" r="0.9" fill="#000" />
<circle cx="436.09" cy="136.38" r="0.9" fill="#000" />
<circle cx="438.83" cy="97.35" r="0.9" fill="#000" />
<circle cx="436.28" cy="98.67" r="0.9" fill="#000" />
<circle cx="439.27" cy="116.67" r="0.9" fill="#000" />
<circle cx="439.48" cy="132.87" r="0.9" fill="#000" />
<circle cx="438.25" cy="95.71" r="0.9" fill="#000" />
<circle cx="436.15" cy="103.69" r="0.9" fill="#000" />
<circle cx="438.22" cy="118.35" r="0.9" fill="#000" />
<circle cx="437.64" cy="128.81" r="0.9" fill="#000" />
<circle cx="440.27" cy="94.30" r="0.9" fill="#000" />
<circle cx="436.53" cy="104.08" r="0.9" fill="#000" />
<circle cx="439.84" cy="111.82" r="0.9" fill="#000" />
<circle cx="440.48" cy="136.56" r="0.9" fill="#000" />
<circle cx="439.27" cy="89.14" r="0.9" fill="#000" />
<circle cx="439.65" cy="99.34" r="0.9" fill="#000" />
<circle cx="436.79" cy="109.85" r="0.9" fill="#000" />
<circle cx="438.20" cy="53.00" r="1.25" fill="none" stroke="#111" stroke-width="0.6"/>
<circle cx="439.29" cy="53.19" r="0.9" fill="#000" />
<circle cx="438.20" cy="163.90" r="1.25" fill="none" stroke="#111" stroke-width="0.6"/>
<circle cx="436.43" cy="164.03" r="0.9" fill="#000" />
<circle cx="438.20" cy="206.30" r="1.25" fill="none" stroke="#111" stroke-width="0.6"/>
<circle cx="437.49" cy="206.21" r="0.9" fill="#000" />
<line x1="454.30" y1="79.90" x2="454.30" y2="102.60" stroke="#1a1a1a" stroke-width="0.8" />
<line x1="454.30" y1="130.10" x2="454.30" y2="170.40" stroke="#1a1a1a" stroke-width="0.8" />
<rect x="447.20" y="102.60" width="14.20" height="27.50" fill="none" stroke="#555" stroke-width="0.85" />
<line x1="447.20" y1="116.40" x2="461.40" y2="116.40" stroke="#555" stroke-width="0.85" />
<circle cx="454.55" cy="79.90" r="0.9" fill="#000" />
<circle cx="454.67" cy="170.40" r="0.9" fill="#000" />
<circle cx="456.06" cy="88.48" r="0.9" fill="#000" />
<circle cx="452.48" cy="114.97" r="0.9" fill="#000" />
<circle cx="456.57" cy="127.57" r="0.9" fill="#000" />
<circle cx="454.90" cy="131.59" r="0.9" fill="#000" />
<circle cx="453.81" cy="95.56" r="0.9" fill="#000" />
<circle cx="455.67" cy="105.47" r="0.9" fill="#000" />
<circle cx="453.22" cy="123.33" r="0.9" fill="#000" />
<circle cx="456.56" cy="135.88" r="0.9" fill="#000" />
<circle cx="454.66" cy="102.52" r="0.9" fill="#000" />
<circle cx="453.66" cy="104.82" r="0.9" fill="#000" />
<circle cx="455.52" cy="125.71" r="0.9" fill="#000" />
<circle cx="454.03" cy="163.50" r="0.9" fill="#000" />
<circle cx="452.81" cy="101.50" r="0.9" fill="#000" />
<circle cx="455.42" cy="104.19" r="0.9" fill="#000" />
<circle cx="452.22" cy="125.12" r="0.9" fill="#000" />
<circle cx="455.77" cy="137.19" r="0.9" fill="#000" />
<circle cx="453.17" cy="84.58" r="0.9" fill="#000" />
<circle cx="454.30" cy="180.60" r="1.25" fill="none" stroke="#111" stroke-width="0.6"/>
<circle cx="456.15" cy="180.75" r="0.9" fill="#000" />
<line x1="470.40" y1="66.10" x2="470.40" y2="103.20" stroke="#1a1a1a" stroke-width="0.8" />
<line x1="470.40" y1="137.40" x2="470.40" y2="175.60" stroke="#1a1a1a" stroke-width="0.8" />
<rect x="463.30" y="103.20" width="14.20" height="34.20" fill="none" stroke="#555" stroke-width="0.85" />
<line x1="463.30" y1="119.80" x2="477.50" y2="119.80" stroke="#555" stroke-width="0.85" />
<circle cx="470.17" cy="66.10" r="0.9" fill="#000" />
<circle cx="468.39" cy="175.60" r="0.9" fill="#000" />
<circle cx="468.77" cy="100.34" r="0.9" fill="#000" />
<circle cx="471.16" cy="113.59" r="0.9" fill="#000" />
<circle cx="469.34" cy="126.21" r="0.9" fill="#000" />
<circle cx="471.83" cy="137.62" r="0.9" fill="#000" />
<circle cx="472.55" cy="92.23" r="0.9" fill="#000" />
<circle cx="468.36" cy="103.96" r="0.9" fill="#000" />
<circle cx="471.88" cy="129.78" r="0.9" fill="#000" />
<circle cx="472.21" cy="142.44" r="0.9" fill="#000" />
<circle cx="470.84" cy="90.87" r="0.9" fill="#000" />
<circle cx="470.76" cy="110.06" r="0.9" fill="#000" />
<circle cx="470.87" cy="122.15" r="0.9" fill="#000" />
<circle cx="470.48" cy="144.33" r="0.9" fill="#000" />
<circle cx="470.37" cy="76.26" r="0.9" fill="#000" />
<circle cx="468.86" cy="103.43" r="0.9" fill="#000" />
<circle cx="468.10" cy="132.25" r="0.9" fill="#000" />
<circle cx="470.40" cy="44.80" r="1.25" fill="none" stroke="#111" stroke-width="0.6"/>
<circle cx="468.90" cy="44.74" r="0.9" fill="#000" />
<polygon points="350.82,48.90 351.50,50.32 353.06,50.52 351.92,51.61 352.21,53.15 350.82,52.40 349.44,53.15 349.73,51.61 348.59,50.52 350.15,50.32" fill="#FF0000"/>
<polygon points="355.38,48.90 356.05,50.32 357.61,50.52 356.47,51.61 356.76,53.15 355.38,52.40 353.99,53.15 354.28,51.61 353.14,50.52 354.70,50.32" fill="#FF0000"/>
<polygon points="359.93,48.90 360.60,50.32 362.16,50.52 361.02,51.61 361.31,53.15 359.93,52.40 358.54,53.15 358.83,51.61 357.69,50.52 359.25,50.32" fill="#FF0000"/>
<polygon points="364.47,48.90 365.15,50.32 366.71,50.52 365.57,51.61 365.86,53.15 364.47,52.40 363.09,53.15 363.38,51.61 362.24,50.52 363.80,50.32" fill="#FF0000"/>
<polygon points="454.60,71.10 455.28,72.52 456.83,72.72 455.69,73.81 455.98,75.35 454.60,74.60 453.22,75.35 453.51,73.81 452.37,72.72 453.92,72.52" fill="#FF0000"/>
<polygon points="470.20,35.40 470.88,36.82 472.43,37.02 471.29,38.11 471.58,39.65 470.20,38.90 468.82,39.65 469.11,38.11 467.97,37.02 469.52,36.82" fill="#FF0000"/>
<line x1="539.50" y1="28.00" x2="539.50" y2="214.30" stroke="#111" stroke-width="1.1" />
<line x1="539.00" y1="214.30" x2="675.50" y2="214.30" stroke="#111" stroke-width="1.1" />
<line x1="537.70" y1="57.40" x2="539.50" y2="57.40" stroke="#333" stroke-width="0.8" />
<text x="536.20" y="61.10" text-anchor="end" fill="#000" style="font-size:14.0px;" >11</text>
<line x1="537.70" y1="89.80" x2="539.50" y2="89.80" stroke="#333" stroke-width="0.8" />
<text x="536.20" y="93.50" text-anchor="end" fill="#000" style="font-size:14.0px;" >10</text>
<line x1="537.70" y1="122.20" x2="539.50" y2="122.20" stroke="#333" stroke-width="0.8" />
<text x="536.20" y="125.90" text-anchor="end" fill="#000" style="font-size:14.0px;" >9</text>
<line x1="537.70" y1="154.60" x2="539.50" y2="154.60" stroke="#333" stroke-width="0.8" />
<text x="536.20" y="158.30" text-anchor="end" fill="#000" style="font-size:14.0px;" >8</text>
<line x1="537.70" y1="187.00" x2="539.50" y2="187.00" stroke="#333" stroke-width="0.8" />
<text x="536.20" y="190.70" text-anchor="end" fill="#000" style="font-size:14.0px;" >7</text>
<text x="508.50" y="21.70" text-anchor="start" fill="#000" style="font-size:13.8px;" >GPR180 vs. phospho cluster</text>
<text transform="translate(517.6,154.0) rotate(-90)" style="font-size:14.2px" fill="#000">Log<tspan dy="3.5" style="font-size:10px">2</tspan><tspan dy="-3.5"> Counts</tspan></text>
<line x1="554.00" y1="214.30" x2="554.00" y2="216.50" stroke="#333" stroke-width="0.8" />
<text transform="translate(557.60,218.10) rotate(-90)" text-anchor="end" fill="#000" style="font-size:11.5px;" >pLGG_BRAF.fusion−rich (n = 78)</text>
<line x1="572.95" y1="214.30" x2="572.95" y2="216.50" stroke="#333" stroke-width="0.8" />
<text transform="translate(576.55,218.10) rotate(-90)" text-anchor="end" fill="#000" style="font-size:11.5px;" >#102BB2 (n = 9)</text>
<line x1="591.90" y1="214.30" x2="591.90" y2="216.50" stroke="#333" stroke-width="0.8" />
<text transform="translate(595.50,218.10) rotate(-90)" text-anchor="end" fill="#000" style="font-size:11.5px;" >Ganglion−rich (n = 26)</text>
<line x1="610.85" y1="214.30" x2="610.85" y2="216.50" stroke="#333" stroke-width="0.8" />
<text transform="translate(614.45,218.10) rotate(-90)" text-anchor="end" fill="#000" style="font-size:11.5px;" >#9B377A (n = 44)</text>
<line x1="629.80" y1="214.30" x2="629.80" y2="216.50" stroke="#333" stroke-width="0.8" />
<text transform="translate(633.40,218.10) rotate(-90)" text-anchor="end" fill="#000" style="font-size:11.5px;" >Ependy (n = 23)</text>
<line x1="648.75" y1="214.30" x2="648.75" y2="216.50" stroke="#333" stroke-width="0.8" />
<text transform="translate(652.35,218.10) rotate(-90)" text-anchor="end" fill="#000" style="font-size:11.5px;" >#C8CCCB (n = 13)</text>
<line x1="667.70" y1="214.30" x2="667.70" y2="216.50" stroke="#333" stroke-width="0.8" />
<text transform="translate(671.30,218.10) rotate(-90)" text-anchor="end" fill="#000" style="font-size:11.5px;" >Cranio/pLGG_BRAF.V600E (n = 19)</text>
<line x1="554.00" y1="45.20" x2="554.00" y2="69.40" stroke="#1a1a1a" stroke-width="0.8" />
<line x1="554.00" y1="97.60" x2="554.00" y2="128.50" stroke="#1a1a1a" stroke-width="0.8" />
<rect x="545.60" y="69.40" width="16.80" height="28.20" fill="none" stroke="#555" stroke-width="0.85" />
<line x1="545.60" y1="85.50" x2="562.40" y2="85.50" stroke="#555" stroke-width="0.85" />
<circle cx="553.34" cy="45.20" r="0.9" fill="#000" />
<circle cx="553.10" cy="128.50" r="0.9" fill="#000" />
<circle cx="556.32" cy="67.30" r="0.9" fill="#000" />
<circle cx="554.02" cy="81.94" r="0.9" fill="#000" />
<circle cx="555.76" cy="92.17" r="0.9" fill="#000" />
<circle cx="554.59" cy="125.46" r="0.9" fill="#000" />
<circle cx="551.65" cy="68.52" r="0.9" fill="#000" />
<circle cx="553.56" cy="79.19" r="0.9" fill="#000" />
<circle cx="553.68" cy="93.26" r="0.9" fill="#000" />
<circle cx="555.37" cy="119.35" r="0.9" fill="#000" />
<circle cx="553.23" cy="68.15" r="0.9" fill="#000" />
<circle cx="555.02" cy="74.23" r="0.9" fill="#000" />
<circle cx="554.19" cy="96.26" r="0.9" fill="#000" />
<circle cx="552.58" cy="117.99" r="0.9" fill="#000" />
<circle cx="555.81" cy="55.71" r="0.9" fill="#000" />
<circle cx="551.95" cy="83.00" r="0.9" fill="#000" />
<circle cx="555.60" cy="91.13" r="0.9" fill="#000" />
<circle cx="552.35" cy="116.20" r="0.9" fill="#000" />
<circle cx="551.51" cy="63.11" r="0.9" fill="#000" />
<circle cx="552.51" cy="71.10" r="0.9" fill="#000" />
<circle cx="555.31" cy="85.97" r="0.9" fill="#000" />
<circle cx="556.39" cy="102.43" r="0.9" fill="#000" />
<circle cx="551.52" cy="54.57" r="0.9" fill="#000" />
<circle cx="553.95" cy="83.01" r="0.9" fill="#000" />
<circle cx="553.96" cy="88.72" r="0.9" fill="#000" />
<circle cx="555.48" cy="108.91" r="0.9" fill="#000" />
<circle cx="552.42" cy="63.50" r="0.9" fill="#000" />
<circle cx="553.97" cy="77.82" r="0.9" fill="#000" />
<circle cx="553.24" cy="93.27" r="0.9" fill="#000" />
<circle cx="555.66" cy="126.69" r="0.9" fill="#000" />
<circle cx="552.80" cy="67.60" r="0.9" fill="#000" />
<circle cx="556.22" cy="69.65" r="0.9" fill="#000" />
<circle cx="552.92" cy="88.36" r="0.9" fill="#000" />
<circle cx="552.57" cy="116.29" r="0.9" fill="#000" />
<circle cx="555.00" cy="47.43" r="0.9" fill="#000" />
<circle cx="553.99" cy="74.66" r="0.9" fill="#000" />
<circle cx="552.05" cy="89.48" r="0.9" fill="#000" />
<circle cx="554.68" cy="100.31" r="0.9" fill="#000" />
<circle cx="551.90" cy="48.88" r="0.9" fill="#000" />
<circle cx="555.44" cy="80.55" r="0.9" fill="#000" />
<circle cx="554.99" cy="97.35" r="0.9" fill="#000" />
<circle cx="555.43" cy="106.15" r="0.9" fill="#000" />
<circle cx="554.64" cy="51.42" r="0.9" fill="#000" />
<circle cx="553.28" cy="83.21" r="0.9" fill="#000" />
<circle cx="553.51" cy="94.27" r="0.9" fill="#000" />
<circle cx="553.47" cy="109.50" r="0.9" fill="#000" />
<circle cx="555.95" cy="66.14" r="0.9" fill="#000" />
<circle cx="551.93" cy="79.42" r="0.9" fill="#000" />
<circle cx="555.94" cy="96.52" r="0.9" fill="#000" />
<circle cx="551.63" cy="98.75" r="0.9" fill="#000" />
<circle cx="552.53" cy="69.35" r="0.9" fill="#000" />
<circle cx="552.82" cy="84.36" r="0.9" fill="#000" />
<circle cx="556.01" cy="87.22" r="0.9" fill="#000" />
<circle cx="554.01" cy="97.67" r="0.9" fill="#000" />
<circle cx="553.40" cy="69.29" r="0.9" fill="#000" />
<circle cx="555.92" cy="79.61" r="0.9" fill="#000" />
<circle cx="552.67" cy="94.42" r="0.9" fill="#000" />
<circle cx="553.80" cy="97.90" r="0.9" fill="#000" />
<circle cx="554.16" cy="59.52" r="0.9" fill="#000" />
<circle cx="555.27" cy="82.56" r="0.9" fill="#000" />
<circle cx="555.26" cy="96.28" r="0.9" fill="#000" />
<circle cx="554.73" cy="97.90" r="0.9" fill="#000" />
<circle cx="553.24" cy="50.38" r="0.9" fill="#000" />
<circle cx="553.13" cy="84.60" r="0.9" fill="#000" />
<circle cx="552.28" cy="87.99" r="0.9" fill="#000" />
<circle cx="555.72" cy="98.35" r="0.9" fill="#000" />
<circle cx="554.81" cy="69.32" r="0.9" fill="#000" />
<circle cx="555.21" cy="82.47" r="0.9" fill="#000" />
<circle cx="552.35" cy="95.48" r="0.9" fill="#000" />
<circle cx="553.69" cy="111.75" r="0.9" fill="#000" />
<circle cx="555.37" cy="66.49" r="0.9" fill="#000" />
<circle cx="554.40" cy="70.98" r="0.9" fill="#000" />
<circle cx="552.13" cy="87.98" r="0.9" fill="#000" />
<circle cx="553.81" cy="102.03" r="0.9" fill="#000" />
<circle cx="555.93" cy="63.78" r="0.9" fill="#000" />
<circle cx="552.69" cy="73.53" r="0.9" fill="#000" />
<circle cx="552.46" cy="94.16" r="0.9" fill="#000" />
<circle cx="554.00" cy="161.50" r="1.25" fill="none" stroke="#111" stroke-width="0.6"/>
<circle cx="556.03" cy="161.70" r="0.9" fill="#000" />
<line x1="572.95" y1="77.80" x2="572.95" y2="83.20" stroke="#1a1a1a" stroke-width="0.8" />
<line x1="572.95" y1="97.60" x2="572.95" y2="97.60" stroke="#1a1a1a" stroke-width="0.8" />
<rect x="564.55" y="83.20" width="16.80" height="14.40" fill="none" stroke="#555" stroke-width="0.85" />
<line x1="564.55" y1="88.40" x2="581.35" y2="88.40" stroke="#555" stroke-width="0.85" />
<circle cx="575.23" cy="77.80" r="0.9" fill="#000" />
<circle cx="571.74" cy="97.60" r="0.9" fill="#000" />
<circle cx="575.22" cy="80.82" r="0.9" fill="#000" />
<circle cx="575.42" cy="88.27" r="0.9" fill="#000" />
<circle cx="571.27" cy="93.95" r="0.9" fill="#000" />
<circle cx="573.74" cy="97.60" r="0.9" fill="#000" />
<circle cx="571.43" cy="82.74" r="0.9" fill="#000" />
<circle cx="572.95" cy="136.20" r="1.25" fill="none" stroke="#111" stroke-width="0.6"/>
<circle cx="570.48" cy="136.38" r="0.9" fill="#000" />
<circle cx="572.95" cy="160.10" r="1.25" fill="none" stroke="#111" stroke-width="0.6"/>
<circle cx="574.38" cy="159.92" r="0.9" fill="#000" />
<line x1="591.90" y1="54.20" x2="591.90" y2="84.70" stroke="#1a1a1a" stroke-width="0.8" />
<line x1="591.90" y1="111.10" x2="591.90" y2="144.80" stroke="#1a1a1a" stroke-width="0.8" />
<rect x="583.50" y="84.70" width="16.80" height="26.40" fill="none" stroke="#555" stroke-width="0.85" />
<line x1="583.50" y1="96.20" x2="600.30" y2="96.20" stroke="#555" stroke-width="0.85" />
<circle cx="592.55" cy="54.20" r="0.9" fill="#000" />
<circle cx="590.65" cy="144.80" r="0.9" fill="#000" />
<circle cx="591.52" cy="70.49" r="0.9" fill="#000" />
<circle cx="591.68" cy="87.07" r="0.9" fill="#000" />
<circle cx="592.51" cy="96.71" r="0.9" fill="#000" />
<circle cx="591.45" cy="118.17" r="0.9" fill="#000" />
<circle cx="592.78" cy="64.23" r="0.9" fill="#000" />
<circle cx="594.05" cy="90.46" r="0.9" fill="#000" />
<circle cx="590.32" cy="103.10" r="0.9" fill="#000" />
<circle cx="592.67" cy="112.32" r="0.9" fill="#000" />
<circle cx="593.29" cy="71.77" r="0.9" fill="#000" />
<circle cx="591.34" cy="93.22" r="0.9" fill="#000" />
<circle cx="591.85" cy="102.61" r="0.9" fill="#000" />
<circle cx="594.27" cy="124.21" r="0.9" fill="#000" />
<circle cx="589.59" cy="66.04" r="0.9" fill="#000" />
<circle cx="592.12" cy="87.33" r="0.9" fill="#000" />
<circle cx="590.20" cy="109.31" r="0.9" fill="#000" />
<circle cx="593.31" cy="132.90" r="0.9" fill="#000" />
<circle cx="594.10" cy="68.06" r="0.9" fill="#000" />
<circle cx="592.00" cy="92.52" r="0.9" fill="#000" />
<circle cx="589.91" cy="102.96" r="0.9" fill="#000" />
<circle cx="592.27" cy="115.78" r="0.9" fill="#000" />
<circle cx="592.11" cy="70.86" r="0.9" fill="#000" />
<circle cx="592.99" cy="89.53" r="0.9" fill="#000" />
<circle cx="591.96" cy="106.83" r="0.9" fill="#000" />
<circle cx="591.90" cy="187.50" r="1.25" fill="none" stroke="#111" stroke-width="0.6"/>
<circle cx="593.49" cy="187.45" r="0.9" fill="#000" />
<line x1="610.85" y1="35.10" x2="610.85" y2="81.40" stroke="#1a1a1a" stroke-width="0.8" />
<line x1="610.85" y1="113.30" x2="610.85" y2="161.80" stroke="#1a1a1a" stroke-width="0.8" />
<rect x="602.45" y="81.40" width="16.80" height="31.90" fill="none" stroke="#555" stroke-width="0.85" />
<line x1="602.45" y1="100.50" x2="619.25" y2="100.50" stroke="#555" stroke-width="0.85" />
<circle cx="612.62" cy="35.10" r="0.9" fill="#000" />
<circle cx="608.64" cy="161.80" r="0.9" fill="#000" />
<circle cx="612.49" cy="39.12" r="0.9" fill="#000" />
<circle cx="612.88" cy="94.47" r="0.9" fill="#000" />
<circle cx="612.27" cy="110.26" r="0.9" fill="#000" />
<circle cx="609.05" cy="114.66" r="0.9" fill="#000" />
<circle cx="612.51" cy="36.32" r="0.9" fill="#000" />
<circle cx="611.52" cy="82.48" r="0.9" fill="#000" />
<circle cx="608.42" cy="105.62" r="0.9" fill="#000" />
<circle cx="608.41" cy="113.33" r="0.9" fill="#000" />
<circle cx="613.11" cy="70.87" r="0.9" fill="#000" />
<circle cx="611.63" cy="94.74" r="0.9" fill="#000" />
<circle cx="609.60" cy="103.89" r="0.9" fill="#000" />
<circle cx="608.86" cy="117.12" r="0.9" fill="#000" />
<circle cx="609.06" cy="53.56" r="0.9" fill="#000" />
<circle cx="609.52" cy="91.47" r="0.9" fill="#000" />
<circle cx="612.23" cy="110.76" r="0.9" fill="#000" />
<circle cx="610.08" cy="123.17" r="0.9" fill="#000" />
<circle cx="609.11" cy="78.09" r="0.9" fill="#000" />
<circle cx="612.87" cy="96.23" r="0.9" fill="#000" />
<circle cx="612.31" cy="108.62" r="0.9" fill="#000" />
<circle cx="609.19" cy="126.70" r="0.9" fill="#000" />
<circle cx="612.81" cy="64.01" r="0.9" fill="#000" />
<circle cx="611.39" cy="99.81" r="0.9" fill="#000" />
<circle cx="612.26" cy="108.68" r="0.9" fill="#000" />
<circle cx="611.69" cy="147.82" r="0.9" fill="#000" />
<circle cx="612.82" cy="48.62" r="0.9" fill="#000" />
<circle cx="612.29" cy="87.02" r="0.9" fill="#000" />
<circle cx="612.54" cy="102.10" r="0.9" fill="#000" />
<circle cx="609.34" cy="148.90" r="0.9" fill="#000" />
<circle cx="611.81" cy="73.45" r="0.9" fill="#000" />
<circle cx="611.00" cy="86.51" r="0.9" fill="#000" />
<circle cx="612.06" cy="103.75" r="0.9" fill="#000" />
<circle cx="610.54" cy="124.67" r="0.9" fill="#000" />
<circle cx="612.76" cy="78.75" r="0.9" fill="#000" />
<circle cx="611.13" cy="95.19" r="0.9" fill="#000" />
<circle cx="609.67" cy="103.64" r="0.9" fill="#000" />
<circle cx="609.52" cy="119.63" r="0.9" fill="#000" />
<circle cx="609.05" cy="68.13" r="0.9" fill="#000" />
<circle cx="610.82" cy="93.57" r="0.9" fill="#000" />
<circle cx="608.64" cy="105.14" r="0.9" fill="#000" />
<circle cx="610.69" cy="156.07" r="0.9" fill="#000" />
<circle cx="610.85" cy="167.50" r="1.25" fill="none" stroke="#111" stroke-width="0.6"/>
<circle cx="608.92" cy="167.35" r="0.9" fill="#000" />
<circle cx="610.85" cy="173.20" r="1.25" fill="none" stroke="#111" stroke-width="0.6"/>
<circle cx="609.22" cy="173.42" r="0.9" fill="#000" />
<line x1="629.80" y1="78.40" x2="629.80" y2="89.20" stroke="#1a1a1a" stroke-width="0.8" />
<line x1="629.80" y1="118.30" x2="629.80" y2="140.20" stroke="#1a1a1a" stroke-width="0.8" />
<rect x="621.40" y="89.20" width="16.80" height="29.10" fill="none" stroke="#555" stroke-width="0.85" />
<line x1="621.40" y1="104.90" x2="638.20" y2="104.90" stroke="#555" stroke-width="0.85" />
<circle cx="629.67" cy="78.40" r="0.9" fill="#000" />
<circle cx="629.93" cy="140.20" r="0.9" fill="#000" />
<circle cx="631.15" cy="89.20" r="0.9" fill="#000" />
<circle cx="628.35" cy="96.55" r="0.9" fill="#000" />
<circle cx="629.48" cy="113.82" r="0.9" fill="#000" />
<circle cx="629.41" cy="134.60" r="0.9" fill="#000" />
<circle cx="630.07" cy="87.16" r="0.9" fill="#000" />
<circle cx="631.43" cy="104.28" r="0.9" fill="#000" />
<circle cx="628.76" cy="113.44" r="0.9" fill="#000" />
<circle cx="631.44" cy="128.45" r="0.9" fill="#000" />
<circle cx="629.32" cy="89.17" r="0.9" fill="#000" />
<circle cx="629.82" cy="99.92" r="0.9" fill="#000" />
<circle cx="628.66" cy="109.33" r="0.9" fill="#000" />
<circle cx="629.83" cy="139.52" r="0.9" fill="#000" />
<circle cx="632.17" cy="85.75" r="0.9" fill="#000" />
<circle cx="630.57" cy="103.29" r="0.9" fill="#000" />
<circle cx="631.26" cy="114.52" r="0.9" fill="#000" />
<circle cx="628.95" cy="128.16" r="0.9" fill="#000" />
<circle cx="628.89" cy="87.49" r="0.9" fill="#000" />
<circle cx="628.80" cy="94.95" r="0.9" fill="#000" />
<circle cx="629.80" cy="44.20" r="1.25" fill="none" stroke="#111" stroke-width="0.6"/>
<circle cx="627.71" cy="43.92" r="0.9" fill="#000" />
<circle cx="629.80" cy="161.50" r="1.25" fill="none" stroke="#111" stroke-width="0.6"/>
<circle cx="631.44" cy="161.23" r="0.9" fill="#000" />
<circle cx="629.80" cy="206.50" r="1.25" fill="none" stroke="#111" stroke-width="0.6"/>
<circle cx="630.61" cy="206.23" r="0.9" fill="#000" />
<line x1="648.75" y1="66.40" x2="648.75" y2="84.90" stroke="#1a1a1a" stroke-width="0.8" />
<line x1="648.75" y1="133.30" x2="648.75" y2="185.20" stroke="#1a1a1a" stroke-width="0.8" />
<rect x="640.35" y="84.90" width="16.80" height="48.40" fill="none" stroke="#555" stroke-width="0.85" />
<line x1="640.35" y1="106.30" x2="657.15" y2="106.30" stroke="#555" stroke-width="0.85" />
<circle cx="650.60" cy="66.40" r="0.9" fill="#000" />
<circle cx="648.36" cy="185.20" r="0.9" fill="#000" />
<circle cx="646.75" cy="71.64" r="0.9" fill="#000" />
<circle cx="650.90" cy="101.29" r="0.9" fill="#000" />
<circle cx="646.32" cy="119.82" r="0.9" fill="#000" />
<circle cx="650.61" cy="151.72" r="0.9" fill="#000" />
<circle cx="646.94" cy="81.39" r="0.9" fill="#000" />
<circle cx="647.80" cy="99.32" r="0.9" fill="#000" />
<circle cx="649.80" cy="129.96" r="0.9" fill="#000" />
<circle cx="650.56" cy="134.05" r="0.9" fill="#000" />
<circle cx="647.17" cy="84.82" r="0.9" fill="#000" />
<circle cx="646.42" cy="98.28" r="0.9" fill="#000" />
<circle cx="646.35" cy="124.22" r="0.9" fill="#000" />
<line x1="667.70" y1="72.70" x2="667.70" y2="100.60" stroke="#1a1a1a" stroke-width="0.8" />
<line x1="667.70" y1="126.80" x2="667.70" y2="158.70" stroke="#1a1a1a" stroke-width="0.8" />
<rect x="659.30" y="100.60" width="16.80" height="26.20" fill="none" stroke="#555" stroke-width="0.85" />
<line x1="659.30" y1="116.30" x2="676.10" y2="116.30" stroke="#555" stroke-width="0.85" />
<circle cx="665.25" cy="72.70" r="0.9" fill="#000" />
<circle cx="668.55" cy="158.70" r="0.9" fill="#000" />
<circle cx="670.13" cy="89.99" r="0.9" fill="#000" />
<circle cx="669.49" cy="114.95" r="0.9" fill="#000" />
<circle cx="666.29" cy="121.78" r="0.9" fill="#000" />
<circle cx="665.81" cy="149.79" r="0.9" fill="#000" />
<circle cx="667.56" cy="82.56" r="0.9" fill="#000" />
<circle cx="666.58" cy="111.52" r="0.9" fill="#000" />
<circle cx="668.04" cy="117.01" r="0.9" fill="#000" />
<circle cx="667.45" cy="143.36" r="0.9" fill="#000" />
<circle cx="668.92" cy="89.10" r="0.9" fill="#000" />
<circle cx="669.81" cy="110.95" r="0.9" fill="#000" />
<circle cx="667.03" cy="124.38" r="0.9" fill="#000" />
<circle cx="668.94" cy="138.30" r="0.9" fill="#000" />
<circle cx="668.67" cy="100.20" r="0.9" fill="#000" />
<circle cx="665.92" cy="114.66" r="0.9" fill="#000" />
<circle cx="669.00" cy="120.78" r="0.9" fill="#000" />
<circle cx="667.70" cy="168.10" r="1.25" fill="none" stroke="#111" stroke-width="0.6"/>
<circle cx="669.49" cy="168.23" r="0.9" fill="#000" />
<circle cx="667.70" cy="179.50" r="1.25" fill="none" stroke="#111" stroke-width="0.6"/>
<circle cx="669.57" cy="179.73" r="0.9" fill="#000" />
<polygon points="549.25,35.90 549.93,37.32 551.48,37.52 550.34,38.61 550.63,40.15 549.25,39.40 547.87,40.15 548.16,38.61 547.02,37.52 548.57,37.32" fill="#FF0000"/>
<polygon points="553.80,35.90 554.48,37.32 556.03,37.52 554.89,38.61 555.18,40.15 553.80,39.40 552.42,40.15 552.71,38.61 551.57,37.52 553.12,37.32" fill="#FF0000"/>
<polygon points="558.35,35.90 559.03,37.32 560.58,37.52 559.44,38.61 559.73,40.15 558.35,39.40 556.97,40.15 557.26,38.61 556.12,37.52 557.67,37.32" fill="#FF0000"/>
<polygon points="664.98,63.60 665.65,65.02 667.21,65.22 666.07,66.31 666.36,67.85 664.98,67.10 663.59,67.85 663.88,66.31 662.74,65.22 664.30,65.02" fill="#FF0000"/>
<polygon points="669.52,63.60 670.20,65.02 671.76,65.22 670.62,66.31 670.91,67.85 669.52,67.10 668.14,67.85 668.43,66.31 667.29,65.22 668.85,65.02" fill="#FF0000"/>
<rect x="19.60" y="492.90" width="128.30" height="127.30" fill="#EAEAF2" stroke="none" stroke-width="1" />
<line x1="33.90" y1="492.90" x2="33.90" y2="620.20" stroke="#fff" stroke-width="0.6" stroke-opacity="0.75"/>
<text x="33.90" y="626.70" text-anchor="middle" fill="#555" style="font-size:5.2px;" >1</text>
<line x1="52.40" y1="492.90" x2="52.40" y2="620.20" stroke="#fff" stroke-width="0.6" stroke-opacity="0.75"/>
<text x="52.40" y="626.70" text-anchor="middle" fill="#555" style="font-size:5.2px;" >2</text>
<line x1="70.90" y1="492.90" x2="70.90" y2="620.20" stroke="#fff" stroke-width="0.6" stroke-opacity="0.75"/>
<text x="70.90" y="626.70" text-anchor="middle" fill="#555" style="font-size:5.2px;" >3</text>
<line x1="89.40" y1="492.90" x2="89.40" y2="620.20" stroke="#fff" stroke-width="0.6" stroke-opacity="0.75"/>
<text x="89.40" y="626.70" text-anchor="middle" fill="#555" style="font-size:5.2px;" >4</text>
<line x1="107.90" y1="492.90" x2="107.90" y2="620.20" stroke="#fff" stroke-width="0.6" stroke-opacity="0.75"/>
<text x="107.90" y="626.70" text-anchor="middle" fill="#555" style="font-size:5.2px;" >5</text>
<line x1="126.40" y1="492.90" x2="126.40" y2="620.20" stroke="#fff" stroke-width="0.6" stroke-opacity="0.75"/>
<text x="126.40" y="626.70" text-anchor="middle" fill="#555" style="font-size:5.2px;" >6</text>
<line x1="144.90" y1="492.90" x2="144.90" y2="620.20" stroke="#fff" stroke-width="0.6" stroke-opacity="0.75"/>
<text x="144.90" y="626.70" text-anchor="middle" fill="#555" style="font-size:5.2px;" >7</text>
<line x1="19.60" y1="505.25" x2="147.90" y2="505.25" stroke="#fff" stroke-width="0.6" stroke-opacity="0.75"/>
<text x="17.30" y="507.15" text-anchor="end" fill="#555" style="font-size:5.2px;" >11</text>
<line x1="19.60" y1="530.20" x2="147.90" y2="530.20" stroke="#fff" stroke-width="0.6" stroke-opacity="0.75"/>
<text x="17.30" y="532.10" text-anchor="end" fill="#555" style="font-size:5.2px;" >10</text>
<line x1="19.60" y1="555.15" x2="147.90" y2="555.15" stroke="#fff" stroke-width="0.6" stroke-opacity="0.75"/>
<text x="17.30" y="557.05" text-anchor="end" fill="#555" style="font-size:5.2px;" >9</text>
<line x1="19.60" y1="580.10" x2="147.90" y2="580.10" stroke="#fff" stroke-width="0.6" stroke-opacity="0.75"/>
<text x="17.30" y="582.00" text-anchor="end" fill="#555" style="font-size:5.2px;" >8</text>
<line x1="19.60" y1="605.05" x2="147.90" y2="605.05" stroke="#fff" stroke-width="0.6" stroke-opacity="0.75"/>
<text x="17.30" y="606.95" text-anchor="end" fill="#555" style="font-size:5.2px;" >7</text>
<path d="M25.00,542.60 L26.96,542.21 L28.92,541.83 L30.88,541.44 L32.84,541.06 L34.80,540.67 L36.76,540.28 L38.72,539.89 L40.68,539.50 L42.64,539.11 L44.60,538.72 L46.56,538.33 L48.52,537.94 L50.48,537.54 L52.44,537.15 L54.40,536.75 L56.36,536.35 L58.32,535.94 L60.28,535.54 L62.24,535.13 L64.20,534.72 L66.16,534.30 L68.12,533.88 L70.08,533.46 L72.04,533.03 L74.00,532.59 L75.96,532.14 L77.92,531.67 L79.88,531.20 L81.84,530.70 L83.80,530.18 L85.76,529.64 L87.72,529.06 L89.68,528.44 L91.64,527.77 L93.60,527.04 L95.56,526.26 L97.52,525.41 L99.48,524.51 L101.44,523.55 L103.40,522.55 L105.36,521.50 L107.32,520.42 L109.28,519.32 L111.24,518.20 L113.20,517.06 L115.16,515.90 L117.12,514.74 L119.08,513.56 L121.04,512.38 L123.00,511.19 L124.96,509.99 L126.92,508.80 L128.88,507.59 L130.84,506.39 L132.80,505.18 L134.76,503.97 L136.72,502.75 L138.68,501.54 L140.64,500.32 L142.60,499.10 L142.60,520.70 L140.64,521.09 L138.68,521.49 L136.72,521.89 L134.76,522.29 L132.80,522.69 L130.84,523.09 L128.88,523.50 L126.92,523.91 L124.96,524.33 L123.00,524.74 L121.04,525.17 L119.08,525.60 L117.12,526.04 L115.16,526.48 L113.20,526.94 L111.24,527.42 L109.28,527.91 L107.32,528.42 L105.36,528.95 L103.40,529.52 L101.44,530.13 L99.48,530.78 L97.52,531.49 L95.56,532.26 L93.60,533.09 L91.64,533.98 L89.68,534.92 L87.72,535.91 L85.76,536.95 L83.80,538.02 L81.84,539.11 L79.88,540.23 L77.92,541.37 L75.96,542.52 L74.00,543.68 L72.04,544.85 L70.08,546.03 L68.12,547.22 L66.16,548.42 L64.20,549.61 L62.24,550.82 L60.28,552.02 L58.32,553.23 L56.36,554.44 L54.40,555.65 L52.44,556.87 L50.48,558.09 L48.52,559.30 L46.56,560.52 L44.60,561.74 L42.64,562.97 L40.68,564.19 L38.72,565.41 L36.76,566.64 L34.80,567.86 L32.84,569.09 L30.88,570.32 L28.92,571.54 L26.96,572.77 L25.00,574.00 Z" stroke="none" stroke-width="1" fill="#4C72B0" fill-opacity="0.16"/>
<circle cx="24.97" cy="548.82" r="0.85" fill="#4C72B0" />
<circle cx="31.80" cy="614.86" r="0.85" fill="#4C72B0" />
<circle cx="42.05" cy="575.01" r="0.85" fill="#4C72B0" />
<circle cx="45.46" cy="535.54" r="0.85" fill="#4C72B0" />
<circle cx="54.95" cy="546.93" r="0.85" fill="#4C72B0" />
<circle cx="57.42" cy="535.54" r="0.85" fill="#4C72B0" />
<circle cx="60.64" cy="548.44" r="0.85" fill="#4C72B0" />
<circle cx="62.16" cy="534.97" r="0.85" fill="#4C72B0" />
<circle cx="62.92" cy="506.51" r="0.85" fill="#4C72B0" />
<circle cx="62.92" cy="559.64" r="0.85" fill="#4C72B0" />
<circle cx="65.20" cy="523.21" r="0.85" fill="#4C72B0" />
<circle cx="65.58" cy="531.75" r="0.85" fill="#4C72B0" />
<circle cx="67.66" cy="519.03" r="0.85" fill="#4C72B0" />
<circle cx="69.37" cy="530.80" r="0.85" fill="#4C72B0" />
<circle cx="70.32" cy="538.96" r="0.85" fill="#4C72B0" />
<circle cx="71.46" cy="545.98" r="0.85" fill="#4C72B0" />
<circle cx="72.60" cy="534.02" r="0.85" fill="#4C72B0" />
<circle cx="72.98" cy="539.72" r="0.85" fill="#4C72B0" />
<circle cx="74.50" cy="556.03" r="0.85" fill="#4C72B0" />
<circle cx="78.10" cy="544.65" r="0.85" fill="#4C72B0" />
<circle cx="80.38" cy="581.08" r="0.85" fill="#4C72B0" />
<circle cx="81.52" cy="543.89" r="0.85" fill="#4C72B0" />
<circle cx="81.90" cy="530.23" r="0.85" fill="#4C72B0" />
<circle cx="82.46" cy="527.95" r="0.85" fill="#4C72B0" />
<circle cx="82.65" cy="551.67" r="0.85" fill="#4C72B0" />
<circle cx="83.03" cy="521.31" r="0.85" fill="#4C72B0" />
<circle cx="83.60" cy="526.05" r="0.85" fill="#4C72B0" />
<circle cx="83.98" cy="514.10" r="0.85" fill="#4C72B0" />
<circle cx="86.64" cy="537.44" r="0.85" fill="#4C72B0" />
<circle cx="88.54" cy="516.57" r="0.85" fill="#4C72B0" />
<circle cx="89.49" cy="548.44" r="0.85" fill="#4C72B0" />
<circle cx="90.06" cy="538.96" r="0.85" fill="#4C72B0" />
<circle cx="90.24" cy="524.16" r="0.85" fill="#4C72B0" />
<circle cx="90.62" cy="530.42" r="0.85" fill="#4C72B0" />
<circle cx="90.62" cy="509.92" r="0.85" fill="#4C72B0" />
<circle cx="91.57" cy="511.44" r="0.85" fill="#4C72B0" />
<circle cx="91.95" cy="515.62" r="0.85" fill="#4C72B0" />
<circle cx="92.52" cy="530.42" r="0.85" fill="#4C72B0" />
<circle cx="93.47" cy="529.85" r="0.85" fill="#4C72B0" />
<circle cx="93.47" cy="526.62" r="0.85" fill="#4C72B0" />
<circle cx="93.85" cy="585.83" r="0.85" fill="#4C72B0" />
<circle cx="93.85" cy="517.89" r="0.85" fill="#4C72B0" />
<circle cx="94.42" cy="523.21" r="0.85" fill="#4C72B0" />
<circle cx="94.80" cy="529.85" r="0.85" fill="#4C72B0" />
<circle cx="95.37" cy="522.26" r="0.85" fill="#4C72B0" />
<circle cx="96.70" cy="501.01" r="0.85" fill="#4C72B0" />
<circle cx="96.70" cy="529.85" r="0.85" fill="#4C72B0" />
<circle cx="97.08" cy="533.64" r="0.85" fill="#4C72B0" />
<circle cx="98.02" cy="514.67" r="0.85" fill="#4C72B0" />
<circle cx="98.78" cy="520.36" r="0.85" fill="#4C72B0" />
<circle cx="103.91" cy="538.96" r="0.85" fill="#4C72B0" />
<circle cx="104.29" cy="510.87" r="0.85" fill="#4C72B0" />
<circle cx="106.56" cy="520.74" r="0.85" fill="#4C72B0" />
<circle cx="109.41" cy="545.60" r="0.85" fill="#4C72B0" />
<circle cx="110.74" cy="516.57" r="0.85" fill="#4C72B0" />
<circle cx="113.39" cy="522.64" r="0.85" fill="#4C72B0" />
<circle cx="113.77" cy="524.16" r="0.85" fill="#4C72B0" />
<circle cx="113.77" cy="527.00" r="0.85" fill="#4C72B0" />
<circle cx="113.96" cy="528.90" r="0.85" fill="#4C72B0" />
<circle cx="114.15" cy="530.80" r="0.85" fill="#4C72B0" />
<circle cx="114.15" cy="535.92" r="0.85" fill="#4C72B0" />
<circle cx="114.34" cy="508.60" r="0.85" fill="#4C72B0" />
<circle cx="115.67" cy="508.03" r="0.85" fill="#4C72B0" />
<circle cx="116.24" cy="507.08" r="0.85" fill="#4C72B0" />
<circle cx="116.62" cy="540.66" r="0.85" fill="#4C72B0" />
<circle cx="117.00" cy="533.26" r="0.85" fill="#4C72B0" />
<circle cx="119.85" cy="511.25" r="0.85" fill="#4C72B0" />
<circle cx="121.36" cy="534.02" r="0.85" fill="#4C72B0" />
<circle cx="121.93" cy="533.64" r="0.85" fill="#4C72B0" />
<circle cx="126.30" cy="508.03" r="0.85" fill="#4C72B0" />
<circle cx="136.92" cy="499.87" r="0.85" fill="#4C72B0" />
<circle cx="142.62" cy="537.82" r="0.85" fill="#4C72B0" />
<circle cx="92.90" cy="530.23" r="0.85" fill="#4C72B0" />
<circle cx="91.95" cy="530.80" r="0.85" fill="#4C72B0" />
<line x1="25.00" y1="558.30" x2="142.60" y2="509.90" stroke="#4C72B0" stroke-width="0.75" />
<text x="78.40" y="633.20" text-anchor="middle" fill="#111" style="font-size:5.35px;" >Histogram Mean for ADC Values Within ET</text>
<text transform="translate(6.20,556.50) rotate(-90)" text-anchor="middle" fill="#222" style="font-size:6.2px;" >Log2 Counts</text>
<text x="137.90" y="615.00" text-anchor="end" fill="#111" style="font-size:5.35px;" >R = 0.49, p = 0.000016</text>
<rect x="175.40" y="494.70" width="47.40" height="126.30" fill="#EAEAF2" stroke="none" stroke-width="1" />
<text x="173.00" y="622.90" text-anchor="end" fill="#555" style="font-size:5.2px;" >0</text>
<line x1="175.40" y1="595.80" x2="222.80" y2="595.80" stroke="#fff" stroke-width="0.6" stroke-opacity="0.75"/>
<text x="173.00" y="597.70" text-anchor="end" fill="#555" style="font-size:5.2px;" >2</text>
<line x1="175.40" y1="570.60" x2="222.80" y2="570.60" stroke="#fff" stroke-width="0.6" stroke-opacity="0.75"/>
<text x="173.00" y="572.50" text-anchor="end" fill="#555" style="font-size:5.2px;" >4</text>
<line x1="175.40" y1="545.40" x2="222.80" y2="545.40" stroke="#fff" stroke-width="0.6" stroke-opacity="0.75"/>
<text x="173.00" y="547.30" text-anchor="end" fill="#555" style="font-size:5.2px;" >6</text>
<line x1="175.40" y1="520.20" x2="222.80" y2="520.20" stroke="#fff" stroke-width="0.6" stroke-opacity="0.75"/>
<text x="173.00" y="522.10" text-anchor="end" fill="#555" style="font-size:5.2px;" >8</text>
<text x="173.00" y="496.90" text-anchor="end" fill="#555" style="font-size:5.2px;" >10</text>
<line x1="182.55" y1="534.40" x2="182.55" y2="565.40" stroke="#555" stroke-width="0.6" />
<line x1="182.55" y1="588.50" x2="182.55" y2="613.10" stroke="#555" stroke-width="0.6" />
<line x1="180.35" y1="534.40" x2="184.75" y2="534.40" stroke="#555" stroke-width="0.6" />
<line x1="180.35" y1="613.10" x2="184.75" y2="613.10" stroke="#555" stroke-width="0.6" />
<rect x="177.90" y="565.40" width="9.30" height="23.10" fill="#5975A4" stroke="#555" stroke-width="0.6" />
<line x1="177.90" y1="577.10" x2="187.20" y2="577.10" stroke="#555" stroke-width="0.7" />
<line x1="215.95" y1="538.30" x2="215.95" y2="553.70" stroke="#555" stroke-width="0.6" />
<line x1="215.95" y1="570.90" x2="215.95" y2="587.70" stroke="#555" stroke-width="0.6" />
<line x1="213.75" y1="538.30" x2="218.15" y2="538.30" stroke="#555" stroke-width="0.6" />
<line x1="213.75" y1="587.70" x2="218.15" y2="587.70" stroke="#555" stroke-width="0.6" />
<rect x="211.20" y="553.70" width="9.50" height="17.20" fill="#B75A5F" stroke="#555" stroke-width="0.6" />
<line x1="211.20" y1="566.90" x2="220.70" y2="566.90" stroke="#555" stroke-width="0.7" />
<path d="M180.40,526.00 L180.40,523.50 L218.20,523.50 L218.20,526.00" stroke="#555" stroke-width="0.6" fill="none" />
<text x="199.30" y="525.90" text-anchor="middle" fill="#333" style="font-size:5.0px;" >****</text>
<text transform="translate(163.20,559.50) rotate(-90)" text-anchor="middle" fill="#111" style="font-size:4.8px;" >Histogram Mean for ADC Values Within ET</text>
<text transform="translate(189.60,623.20) rotate(-20.5)" text-anchor="end" fill="#222" style="font-size:4.9px;" >GPR180 Low</text>
<text transform="translate(220.20,624.50) rotate(-20.5)" text-anchor="end" fill="#222" style="font-size:4.9px;" >GPR180 High</text>
<rect x="249.20" y="493.80" width="122.70" height="126.20" fill="#EAEAF2" stroke="none" stroke-width="1" />
<line x1="268.00" y1="493.80" x2="268.00" y2="620.00" stroke="#fff" stroke-width="0.6" stroke-opacity="0.75"/>
<text x="268.00" y="626.50" text-anchor="middle" fill="#555" style="font-size:5.2px;" >2</text>
<line x1="288.08" y1="493.80" x2="288.08" y2="620.00" stroke="#fff" stroke-width="0.6" stroke-opacity="0.75"/>
<text x="288.08" y="626.50" text-anchor="middle" fill="#555" style="font-size:5.2px;" >3</text>
<line x1="308.16" y1="493.80" x2="308.16" y2="620.00" stroke="#fff" stroke-width="0.6" stroke-opacity="0.75"/>
<text x="308.16" y="626.50" text-anchor="middle" fill="#555" style="font-size:5.2px;" >4</text>
<line x1="328.24" y1="493.80" x2="328.24" y2="620.00" stroke="#fff" stroke-width="0.6" stroke-opacity="0.75"/>
<text x="328.24" y="626.50" text-anchor="middle" fill="#555" style="font-size:5.2px;" >5</text>
<line x1="348.32" y1="493.80" x2="348.32" y2="620.00" stroke="#fff" stroke-width="0.6" stroke-opacity="0.75"/>
<text x="348.32" y="626.50" text-anchor="middle" fill="#555" style="font-size:5.2px;" >6</text>
<line x1="368.40" y1="493.80" x2="368.40" y2="620.00" stroke="#fff" stroke-width="0.6" stroke-opacity="0.75"/>
<text x="368.40" y="626.50" text-anchor="middle" fill="#555" style="font-size:5.2px;" >7</text>
<line x1="249.20" y1="504.75" x2="371.90" y2="504.75" stroke="#fff" stroke-width="0.6" stroke-opacity="0.75"/>
<text x="246.90" y="506.65" text-anchor="end" fill="#555" style="font-size:5.2px;" >11</text>
<line x1="249.20" y1="529.80" x2="371.90" y2="529.80" stroke="#fff" stroke-width="0.6" stroke-opacity="0.75"/>
<text x="246.90" y="531.70" text-anchor="end" fill="#555" style="font-size:5.2px;" >10</text>
<line x1="249.20" y1="554.85" x2="371.90" y2="554.85" stroke="#fff" stroke-width="0.6" stroke-opacity="0.75"/>
<text x="246.90" y="556.75" text-anchor="end" fill="#555" style="font-size:5.2px;" >9</text>
<line x1="249.20" y1="579.90" x2="371.90" y2="579.90" stroke="#fff" stroke-width="0.6" stroke-opacity="0.75"/>
<text x="246.90" y="581.80" text-anchor="end" fill="#555" style="font-size:5.2px;" >8</text>
<line x1="249.20" y1="604.95" x2="371.90" y2="604.95" stroke="#fff" stroke-width="0.6" stroke-opacity="0.75"/>
<text x="246.90" y="606.85" text-anchor="end" fill="#555" style="font-size:5.2px;" >7</text>
<path d="M254.10,540.80 L255.97,540.44 L257.84,540.07 L259.71,539.71 L261.59,539.34 L263.46,538.97 L265.33,538.61 L267.20,538.24 L269.07,537.87 L270.94,537.50 L272.82,537.13 L274.69,536.76 L276.56,536.39 L278.43,536.01 L280.30,535.64 L282.18,535.26 L284.05,534.88 L285.92,534.50 L287.79,534.12 L289.66,533.74 L291.53,533.35 L293.40,532.96 L295.28,532.56 L297.15,532.16 L299.02,531.75 L300.89,531.34 L302.76,530.92 L304.63,530.49 L306.51,530.05 L308.38,529.59 L310.25,529.12 L312.12,528.63 L313.99,528.11 L315.87,527.56 L317.74,526.97 L319.61,526.35 L321.48,525.67 L323.35,524.94 L325.22,524.16 L327.09,523.33 L328.97,522.44 L330.84,521.52 L332.71,520.55 L334.58,519.56 L336.45,518.54 L338.32,517.49 L340.20,516.43 L342.07,515.36 L343.94,514.28 L345.81,513.18 L347.68,512.08 L349.55,510.97 L351.43,509.85 L353.30,508.73 L355.17,507.61 L357.04,506.48 L358.91,505.35 L360.78,504.21 L362.66,503.08 L364.53,501.94 L366.40,500.80 L366.40,520.20 L364.53,520.58 L362.66,520.96 L360.78,521.34 L358.91,521.72 L357.04,522.10 L355.17,522.49 L353.30,522.89 L351.43,523.28 L349.55,523.68 L347.68,524.09 L345.81,524.50 L343.94,524.92 L342.07,525.36 L340.20,525.80 L338.32,526.26 L336.45,526.73 L334.58,527.23 L332.71,527.75 L330.84,528.30 L328.97,528.89 L327.09,529.52 L325.22,530.21 L323.35,530.94 L321.48,531.73 L319.61,532.57 L317.74,533.46 L315.87,534.39 L313.99,535.36 L312.12,536.36 L310.25,537.38 L308.38,538.42 L306.51,539.49 L304.63,540.56 L302.76,541.65 L300.89,542.74 L299.02,543.85 L297.15,544.96 L295.28,546.07 L293.40,547.19 L291.53,548.32 L289.66,549.45 L287.79,550.58 L285.92,551.71 L284.05,552.85 L282.18,553.99 L280.30,555.13 L278.43,556.27 L276.56,557.41 L274.69,558.56 L272.82,559.70 L270.94,560.85 L269.07,562.00 L267.20,563.14 L265.33,564.29 L263.46,565.44 L261.59,566.59 L259.71,567.74 L257.84,568.90 L255.97,570.05 L254.10,571.20 Z" stroke="none" stroke-width="1" fill="#4C72B0" fill-opacity="0.16"/>
<circle cx="254.11" cy="548.44" r="0.85" fill="#4C72B0" />
<circle cx="259.42" cy="614.67" r="0.85" fill="#4C72B0" />
<circle cx="267.20" cy="574.63" r="0.85" fill="#4C72B0" />
<circle cx="278.21" cy="535.16" r="0.85" fill="#4C72B0" />
<circle cx="283.52" cy="505.94" r="0.85" fill="#4C72B0" />
<circle cx="283.90" cy="534.59" r="0.85" fill="#4C72B0" />
<circle cx="287.13" cy="531.18" r="0.85" fill="#4C72B0" />
<circle cx="288.26" cy="559.26" r="0.85" fill="#4C72B0" />
<circle cx="288.64" cy="547.87" r="0.85" fill="#4C72B0" />
<circle cx="290.54" cy="547.31" r="0.85" fill="#4C72B0" />
<circle cx="291.11" cy="535.16" r="0.85" fill="#4C72B0" />
<circle cx="290.92" cy="522.64" r="0.85" fill="#4C72B0" />
<circle cx="292.82" cy="518.46" r="0.85" fill="#4C72B0" />
<circle cx="293.01" cy="530.42" r="0.85" fill="#4C72B0" />
<circle cx="293.01" cy="538.96" r="0.85" fill="#4C72B0" />
<circle cx="293.39" cy="539.72" r="0.85" fill="#4C72B0" />
<circle cx="295.28" cy="555.84" r="0.85" fill="#4C72B0" />
<circle cx="295.85" cy="545.98" r="0.85" fill="#4C72B0" />
<circle cx="297.75" cy="544.46" r="0.85" fill="#4C72B0" />
<circle cx="298.13" cy="533.26" r="0.85" fill="#4C72B0" />
<circle cx="301.93" cy="551.10" r="0.85" fill="#4C72B0" />
<circle cx="303.82" cy="543.51" r="0.85" fill="#4C72B0" />
<circle cx="304.77" cy="580.32" r="0.85" fill="#4C72B0" />
<circle cx="305.15" cy="525.67" r="0.85" fill="#4C72B0" />
<circle cx="305.72" cy="527.19" r="0.85" fill="#4C72B0" />
<circle cx="307.62" cy="520.74" r="0.85" fill="#4C72B0" />
<circle cx="308.76" cy="513.72" r="0.85" fill="#4C72B0" />
<circle cx="309.52" cy="529.85" r="0.85" fill="#4C72B0" />
<circle cx="310.46" cy="523.78" r="0.85" fill="#4C72B0" />
<circle cx="310.65" cy="537.06" r="0.85" fill="#4C72B0" />
<circle cx="311.41" cy="509.73" r="0.85" fill="#4C72B0" />
<circle cx="312.74" cy="538.96" r="0.85" fill="#4C72B0" />
<circle cx="313.69" cy="547.87" r="0.85" fill="#4C72B0" />
<circle cx="315.78" cy="523.02" r="0.85" fill="#4C72B0" />
<circle cx="316.54" cy="517.51" r="0.85" fill="#4C72B0" />
<circle cx="316.92" cy="511.25" r="0.85" fill="#4C72B0" />
<circle cx="317.49" cy="526.43" r="0.85" fill="#4C72B0" />
<circle cx="317.68" cy="585.26" r="0.85" fill="#4C72B0" />
<circle cx="318.06" cy="514.29" r="0.85" fill="#4C72B0" />
<circle cx="318.43" cy="515.62" r="0.85" fill="#4C72B0" />
<circle cx="318.62" cy="529.85" r="0.85" fill="#4C72B0" />
<circle cx="319.00" cy="529.28" r="0.85" fill="#4C72B0" />
<circle cx="320.33" cy="519.98" r="0.85" fill="#4C72B0" />
<circle cx="322.04" cy="532.50" r="0.85" fill="#4C72B0" />
<circle cx="322.23" cy="528.90" r="0.85" fill="#4C72B0" />
<circle cx="322.80" cy="515.05" r="0.85" fill="#4C72B0" />
<circle cx="325.83" cy="500.63" r="0.85" fill="#4C72B0" />
<circle cx="327.92" cy="521.88" r="0.85" fill="#4C72B0" />
<circle cx="332.48" cy="520.36" r="0.85" fill="#4C72B0" />
<circle cx="333.80" cy="510.49" r="0.85" fill="#4C72B0" />
<circle cx="334.18" cy="538.77" r="0.85" fill="#4C72B0" />
<circle cx="335.89" cy="516.00" r="0.85" fill="#4C72B0" />
<circle cx="337.22" cy="508.03" r="0.85" fill="#4C72B0" />
<circle cx="337.41" cy="545.03" r="0.85" fill="#4C72B0" />
<circle cx="339.31" cy="535.16" r="0.85" fill="#4C72B0" />
<circle cx="339.31" cy="540.28" r="0.85" fill="#4C72B0" />
<circle cx="339.88" cy="527.00" r="0.85" fill="#4C72B0" />
<circle cx="340.83" cy="530.80" r="0.85" fill="#4C72B0" />
<circle cx="341.02" cy="528.33" r="0.85" fill="#4C72B0" />
<circle cx="341.96" cy="507.08" r="0.85" fill="#4C72B0" />
<circle cx="343.29" cy="532.69" r="0.85" fill="#4C72B0" />
<circle cx="343.86" cy="510.49" r="0.85" fill="#4C72B0" />
<circle cx="346.33" cy="533.64" r="0.85" fill="#4C72B0" />
<circle cx="347.28" cy="523.21" r="0.85" fill="#4C72B0" />
<circle cx="348.61" cy="508.03" r="0.85" fill="#4C72B0" />
<circle cx="348.98" cy="508.03" r="0.85" fill="#4C72B0" />
<circle cx="352.97" cy="532.88" r="0.85" fill="#4C72B0" />
<circle cx="363.03" cy="499.49" r="0.85" fill="#4C72B0" />
<circle cx="366.82" cy="536.87" r="0.85" fill="#4C72B0" />
<circle cx="318.06" cy="529.28" r="0.85" fill="#4C72B0" />
<circle cx="316.16" cy="529.47" r="0.85" fill="#4C72B0" />
<circle cx="317.11" cy="528.90" r="0.85" fill="#4C72B0" />
<line x1="254.10" y1="556.00" x2="366.40" y2="510.50" stroke="#4C72B0" stroke-width="0.75" />
<text x="310.20" y="633.00" text-anchor="middle" fill="#111" style="font-size:5.35px;" >Histogram Root Mean Square for ADC Values Within ET</text>
<text transform="translate(235.90,558.00) rotate(-90)" text-anchor="middle" fill="#222" style="font-size:6.2px;" >Log2 Counts</text>
<text x="368.20" y="616.00" text-anchor="end" fill="#111" style="font-size:5.35px;" >R = 0.49, p = 0.000017</text>
<rect x="405.90" y="494.90" width="47.40" height="125.40" fill="#EAEAF2" stroke="none" stroke-width="1" />
<text x="403.50" y="623.00" text-anchor="end" fill="#555" style="font-size:5.2px;" >0</text>
<line x1="405.90" y1="595.94" x2="453.30" y2="595.94" stroke="#fff" stroke-width="0.6" stroke-opacity="0.75"/>
<text x="403.50" y="597.84" text-anchor="end" fill="#555" style="font-size:5.2px;" >2</text>
<line x1="405.90" y1="570.78" x2="453.30" y2="570.78" stroke="#fff" stroke-width="0.6" stroke-opacity="0.75"/>
<text x="403.50" y="572.68" text-anchor="end" fill="#555" style="font-size:5.2px;" >4</text>
<line x1="405.90" y1="545.62" x2="453.30" y2="545.62" stroke="#fff" stroke-width="0.6" stroke-opacity="0.75"/>
<text x="403.50" y="547.52" text-anchor="end" fill="#555" style="font-size:5.2px;" >6</text>
<line x1="405.90" y1="520.46" x2="453.30" y2="520.46" stroke="#fff" stroke-width="0.6" stroke-opacity="0.75"/>
<text x="403.50" y="522.36" text-anchor="end" fill="#555" style="font-size:5.2px;" >8</text>
<text x="403.50" y="497.20" text-anchor="end" fill="#555" style="font-size:5.2px;" >10</text>
<line x1="412.60" y1="542.40" x2="412.60" y2="562.40" stroke="#555" stroke-width="0.6" />
<line x1="412.60" y1="580.50" x2="412.60" y2="604.30" stroke="#555" stroke-width="0.6" />
<line x1="410.40" y1="542.40" x2="414.80" y2="542.40" stroke="#555" stroke-width="0.6" />
<line x1="410.40" y1="604.30" x2="414.80" y2="604.30" stroke="#555" stroke-width="0.6" />
<rect x="407.90" y="562.40" width="9.40" height="18.10" fill="#5975A4" stroke="#555" stroke-width="0.6" />
<line x1="407.90" y1="575.20" x2="417.30" y2="575.20" stroke="#555" stroke-width="0.7" />
<circle cx="412.60" cy="533.80" r="0.75" fill="#555" />
<line x1="446.00" y1="536.00" x2="446.00" y2="552.10" stroke="#555" stroke-width="0.6" />
<line x1="446.00" y1="568.60" x2="446.00" y2="585.50" stroke="#555" stroke-width="0.6" />
<line x1="443.80" y1="536.00" x2="448.20" y2="536.00" stroke="#555" stroke-width="0.6" />
<line x1="443.80" y1="585.50" x2="448.20" y2="585.50" stroke="#555" stroke-width="0.6" />
<rect x="441.30" y="552.10" width="9.40" height="16.50" fill="#B75A5F" stroke="#555" stroke-width="0.6" />
<line x1="441.30" y1="563.40" x2="450.70" y2="563.40" stroke="#555" stroke-width="0.7" />
<path d="M410.50,526.00 L410.50,523.50 L448.50,523.50 L448.50,526.00" stroke="#555" stroke-width="0.6" fill="none" />
<text x="429.50" y="525.90" text-anchor="middle" fill="#333" style="font-size:5.0px;" >****</text>
<text transform="translate(393.00,559.30) rotate(-90)" text-anchor="middle" fill="#111" style="font-size:4.8px;" >Histogram Root Mean Square for ADC Values Within ET</text>
<text transform="translate(421.50,623.00) rotate(-20.5)" text-anchor="end" fill="#222" style="font-size:4.9px;" >GPR180 Low</text>
<text transform="translate(451.60,624.50) rotate(-20.5)" text-anchor="end" fill="#222" style="font-size:4.9px;" >GPR180 High</text>
<rect x="481.90" y="494.00" width="127.60" height="126.40" fill="#EAEAF2" stroke="none" stroke-width="1" />
<line x1="486.10" y1="494.00" x2="486.10" y2="620.40" stroke="#fff" stroke-width="0.6" stroke-opacity="0.75"/>
<text x="486.10" y="626.90" text-anchor="middle" fill="#555" style="font-size:5.2px;" >−3</text>
<line x1="504.60" y1="494.00" x2="504.60" y2="620.40" stroke="#fff" stroke-width="0.6" stroke-opacity="0.75"/>
<text x="504.60" y="626.90" text-anchor="middle" fill="#555" style="font-size:5.2px;" >−2</text>
<line x1="523.10" y1="494.00" x2="523.10" y2="620.40" stroke="#fff" stroke-width="0.6" stroke-opacity="0.75"/>
<text x="523.10" y="626.90" text-anchor="middle" fill="#555" style="font-size:5.2px;" >−1</text>
<line x1="541.60" y1="494.00" x2="541.60" y2="620.40" stroke="#fff" stroke-width="0.6" stroke-opacity="0.75"/>
<text x="541.60" y="626.90" text-anchor="middle" fill="#555" style="font-size:5.2px;" >0</text>
<line x1="560.10" y1="494.00" x2="560.10" y2="620.40" stroke="#fff" stroke-width="0.6" stroke-opacity="0.75"/>
<text x="560.10" y="626.90" text-anchor="middle" fill="#555" style="font-size:5.2px;" >1</text>
<line x1="578.60" y1="494.00" x2="578.60" y2="620.40" stroke="#fff" stroke-width="0.6" stroke-opacity="0.75"/>
<text x="578.60" y="626.90" text-anchor="middle" fill="#555" style="font-size:5.2px;" >2</text>
<line x1="597.10" y1="494.00" x2="597.10" y2="620.40" stroke="#fff" stroke-width="0.6" stroke-opacity="0.75"/>
<text x="597.10" y="626.90" text-anchor="middle" fill="#555" style="font-size:5.2px;" >3</text>
<text x="479.60" y="495.90" text-anchor="end" fill="#555" style="font-size:5.2px;" >12</text>
<line x1="481.90" y1="516.40" x2="609.50" y2="516.40" stroke="#fff" stroke-width="0.6" stroke-opacity="0.75"/>
<text x="479.60" y="518.30" text-anchor="end" fill="#555" style="font-size:5.2px;" >11</text>
<line x1="481.90" y1="538.80" x2="609.50" y2="538.80" stroke="#fff" stroke-width="0.6" stroke-opacity="0.75"/>
<text x="479.60" y="540.70" text-anchor="end" fill="#555" style="font-size:5.2px;" >10</text>
<line x1="481.90" y1="561.20" x2="609.50" y2="561.20" stroke="#fff" stroke-width="0.6" stroke-opacity="0.75"/>
<text x="479.60" y="563.10" text-anchor="end" fill="#555" style="font-size:5.2px;" >9</text>
<line x1="481.90" y1="583.60" x2="609.50" y2="583.60" stroke="#fff" stroke-width="0.6" stroke-opacity="0.75"/>
<text x="479.60" y="585.50" text-anchor="end" fill="#555" style="font-size:5.2px;" >8</text>
<line x1="481.90" y1="606.00" x2="609.50" y2="606.00" stroke="#fff" stroke-width="0.6" stroke-opacity="0.75"/>
<text x="479.60" y="607.90" text-anchor="end" fill="#555" style="font-size:5.2px;" >7</text>
<path d="M487.60,502.40 L489.54,503.69 L491.47,504.98 L493.41,506.27 L495.34,507.55 L497.28,508.84 L499.21,510.12 L501.15,511.40 L503.08,512.68 L505.02,513.96 L506.95,515.24 L508.89,516.51 L510.82,517.78 L512.75,519.04 L514.69,520.30 L516.62,521.56 L518.56,522.80 L520.50,524.04 L522.43,525.27 L524.37,526.49 L526.30,527.69 L528.24,528.87 L530.17,530.03 L532.11,531.16 L534.04,532.24 L535.98,533.28 L537.91,534.25 L539.85,535.15 L541.78,535.97 L543.72,536.71 L545.65,537.38 L547.59,537.97 L549.52,538.50 L551.46,538.98 L553.39,539.43 L555.33,539.84 L557.26,540.23 L559.20,540.61 L561.13,540.96 L563.07,541.31 L565.00,541.65 L566.94,541.97 L568.87,542.29 L570.81,542.61 L572.74,542.92 L574.68,543.23 L576.61,543.53 L578.55,543.83 L580.48,544.13 L582.42,544.43 L584.35,544.72 L586.29,545.01 L588.22,545.31 L590.16,545.60 L592.09,545.89 L594.03,546.17 L595.96,546.46 L597.90,546.75 L599.83,547.03 L601.77,547.32 L603.70,547.60 L603.70,581.20 L601.77,579.91 L599.83,578.62 L597.90,577.32 L595.96,576.03 L594.03,574.74 L592.09,573.45 L590.16,572.17 L588.22,570.88 L586.29,569.60 L584.35,568.31 L582.42,567.03 L580.48,565.75 L578.55,564.47 L576.61,563.20 L574.68,561.92 L572.74,560.65 L570.81,559.39 L568.87,558.13 L566.94,556.87 L565.00,555.62 L563.07,554.38 L561.13,553.15 L559.20,551.93 L557.26,550.73 L555.33,549.54 L553.39,548.38 L551.46,547.25 L549.52,546.15 L547.59,545.11 L545.65,544.12 L543.72,543.21 L541.78,542.37 L539.85,541.62 L537.91,540.94 L535.98,540.34 L534.04,539.80 L532.11,539.31 L530.17,538.86 L528.24,538.44 L526.30,538.04 L524.37,537.67 L522.43,537.31 L520.50,536.96 L518.56,536.62 L516.62,536.29 L514.69,535.97 L512.75,535.65 L510.82,535.34 L508.89,535.04 L506.95,534.73 L505.02,534.43 L503.08,534.13 L501.15,533.83 L499.21,533.54 L497.28,533.25 L495.34,532.95 L493.41,532.66 L491.47,532.38 L489.54,532.09 L487.60,531.80 Z" stroke="none" stroke-width="1" fill="#4C72B0" fill-opacity="0.16"/>
<circle cx="487.21" cy="545.98" r="0.85" fill="#4C72B0" />
<circle cx="509.98" cy="512.39" r="0.85" fill="#4C72B0" />
<circle cx="515.10" cy="547.31" r="0.85" fill="#4C72B0" />
<circle cx="518.90" cy="530.23" r="0.85" fill="#4C72B0" />
<circle cx="520.80" cy="553.00" r="0.85" fill="#4C72B0" />
<circle cx="522.13" cy="519.98" r="0.85" fill="#4C72B0" />
<circle cx="526.49" cy="536.49" r="0.85" fill="#4C72B0" />
<circle cx="527.06" cy="522.26" r="0.85" fill="#4C72B0" />
<circle cx="527.44" cy="542.18" r="0.85" fill="#4C72B0" />
<circle cx="528.96" cy="538.96" r="0.85" fill="#4C72B0" />
<circle cx="529.72" cy="518.46" r="0.85" fill="#4C72B0" />
<circle cx="531.23" cy="521.31" r="0.85" fill="#4C72B0" />
<circle cx="532.75" cy="525.67" r="0.85" fill="#4C72B0" />
<circle cx="533.13" cy="544.08" r="0.85" fill="#4C72B0" />
<circle cx="533.70" cy="519.98" r="0.85" fill="#4C72B0" />
<circle cx="534.08" cy="533.64" r="0.85" fill="#4C72B0" />
<circle cx="535.03" cy="530.80" r="0.85" fill="#4C72B0" />
<circle cx="535.60" cy="527.95" r="0.85" fill="#4C72B0" />
<circle cx="535.98" cy="527.57" r="0.85" fill="#4C72B0" />
<circle cx="536.17" cy="541.61" r="0.85" fill="#4C72B0" />
<circle cx="536.55" cy="540.28" r="0.85" fill="#4C72B0" />
<circle cx="536.93" cy="542.75" r="0.85" fill="#4C72B0" />
<circle cx="537.50" cy="539.34" r="0.85" fill="#4C72B0" />
<circle cx="537.87" cy="558.31" r="0.85" fill="#4C72B0" />
<circle cx="538.25" cy="538.39" r="0.85" fill="#4C72B0" />
<circle cx="538.82" cy="539.34" r="0.85" fill="#4C72B0" />
<circle cx="539.39" cy="545.98" r="0.85" fill="#4C72B0" />
<circle cx="539.77" cy="530.80" r="0.85" fill="#4C72B0" />
<circle cx="540.72" cy="521.88" r="0.85" fill="#4C72B0" />
<circle cx="541.29" cy="532.69" r="0.85" fill="#4C72B0" />
<circle cx="541.67" cy="525.10" r="0.85" fill="#4C72B0" />
<circle cx="542.05" cy="546.93" r="0.85" fill="#4C72B0" />
<circle cx="542.62" cy="548.44" r="0.85" fill="#4C72B0" />
<circle cx="543.00" cy="546.93" r="0.85" fill="#4C72B0" />
<circle cx="544.14" cy="519.41" r="0.85" fill="#4C72B0" />
<circle cx="544.52" cy="538.96" r="0.85" fill="#4C72B0" />
<circle cx="545.09" cy="513.15" r="0.85" fill="#4C72B0" />
<circle cx="546.03" cy="539.72" r="0.85" fill="#4C72B0" />
<circle cx="547.36" cy="534.59" r="0.85" fill="#4C72B0" />
<circle cx="547.74" cy="555.46" r="0.85" fill="#4C72B0" />
<circle cx="548.31" cy="555.46" r="0.85" fill="#4C72B0" />
<circle cx="548.88" cy="534.02" r="0.85" fill="#4C72B0" />
<circle cx="549.83" cy="562.49" r="0.85" fill="#4C72B0" />
<circle cx="550.21" cy="535.54" r="0.85" fill="#4C72B0" />
<circle cx="550.59" cy="526.05" r="0.85" fill="#4C72B0" />
<circle cx="551.73" cy="540.28" r="0.85" fill="#4C72B0" />
<circle cx="552.11" cy="528.90" r="0.85" fill="#4C72B0" />
<circle cx="553.06" cy="527.00" r="0.85" fill="#4C72B0" />
<circle cx="553.62" cy="522.64" r="0.85" fill="#4C72B0" />
<circle cx="553.62" cy="584.50" r="0.85" fill="#4C72B0" />
<circle cx="556.85" cy="552.24" r="0.85" fill="#4C72B0" />
<circle cx="557.42" cy="535.92" r="0.85" fill="#4C72B0" />
<circle cx="558.18" cy="536.49" r="0.85" fill="#4C72B0" />
<circle cx="558.37" cy="589.05" r="0.85" fill="#4C72B0" />
<circle cx="559.70" cy="518.08" r="0.85" fill="#4C72B0" />
<circle cx="561.21" cy="544.08" r="0.85" fill="#4C72B0" />
<circle cx="561.97" cy="541.61" r="0.85" fill="#4C72B0" />
<circle cx="562.16" cy="551.67" r="0.85" fill="#4C72B0" />
<circle cx="563.11" cy="540.28" r="0.85" fill="#4C72B0" />
<circle cx="563.87" cy="533.26" r="0.85" fill="#4C72B0" />
<circle cx="565.39" cy="565.90" r="0.85" fill="#4C72B0" />
<circle cx="566.34" cy="579.56" r="0.85" fill="#4C72B0" />
<circle cx="568.80" cy="540.85" r="0.85" fill="#4C72B0" />
<circle cx="568.80" cy="544.08" r="0.85" fill="#4C72B0" />
<circle cx="569.18" cy="554.90" r="0.85" fill="#4C72B0" />
<circle cx="576.77" cy="547.50" r="0.85" fill="#4C72B0" />
<circle cx="584.93" cy="615.24" r="0.85" fill="#4C72B0" />
<circle cx="603.72" cy="556.03" r="0.85" fill="#4C72B0" />
<line x1="487.60" y1="517.10" x2="603.70" y2="564.40" stroke="#4C72B0" stroke-width="0.75" />
<text x="540.30" y="633.40" text-anchor="middle" fill="#111" style="font-size:5.35px;" >Histogram Skewness for ADC Values Within ET</text>
<text transform="translate(468.20,555.60) rotate(-90)" text-anchor="middle" fill="#222" style="font-size:6.2px;" >Log2 Counts</text>
<text x="600.90" y="611.20" text-anchor="end" fill="#111" style="font-size:5.35px;" >R = −0.42, p = 0.00024</text>
<rect x="637.50" y="493.00" width="48.00" height="126.80" fill="#EAEAF2" stroke="none" stroke-width="1" />
<line x1="637.50" y1="608.00" x2="685.50" y2="608.00" stroke="#fff" stroke-width="0.6" stroke-opacity="0.75"/>
<text x="635.10" y="609.90" text-anchor="end" fill="#555" style="font-size:5.2px;" >−4</text>
<line x1="637.50" y1="582.50" x2="685.50" y2="582.50" stroke="#fff" stroke-width="0.6" stroke-opacity="0.75"/>
<text x="635.10" y="584.40" text-anchor="end" fill="#555" style="font-size:5.2px;" >−2</text>
<line x1="637.50" y1="557.00" x2="685.50" y2="557.00" stroke="#fff" stroke-width="0.6" stroke-opacity="0.75"/>
<text x="635.10" y="558.90" text-anchor="end" fill="#555" style="font-size:5.2px;" >0</text>
<line x1="637.50" y1="531.50" x2="685.50" y2="531.50" stroke="#fff" stroke-width="0.6" stroke-opacity="0.75"/>
<text x="635.10" y="533.40" text-anchor="end" fill="#555" style="font-size:5.2px;" >2</text>
<line x1="637.50" y1="506.00" x2="685.50" y2="506.00" stroke="#fff" stroke-width="0.6" stroke-opacity="0.75"/>
<text x="635.10" y="507.90" text-anchor="end" fill="#555" style="font-size:5.2px;" >4</text>
<line x1="644.85" y1="514.40" x2="644.85" y2="539.90" stroke="#555" stroke-width="0.6" />
<line x1="644.85" y1="558.50" x2="644.85" y2="574.00" stroke="#555" stroke-width="0.6" />
<line x1="642.65" y1="514.40" x2="647.05" y2="514.40" stroke="#555" stroke-width="0.6" />
<line x1="642.65" y1="574.00" x2="647.05" y2="574.00" stroke="#555" stroke-width="0.6" />
<rect x="639.90" y="539.90" width="9.90" height="18.60" fill="#5975A4" stroke="#555" stroke-width="0.6" />
<line x1="639.90" y1="549.40" x2="649.80" y2="549.40" stroke="#555" stroke-width="0.7" />
<circle cx="644.85" cy="593.50" r="0.75" fill="#555" />
<line x1="678.15" y1="537.50" x2="678.15" y2="550.30" stroke="#555" stroke-width="0.6" />
<line x1="678.15" y1="561.70" x2="678.15" y2="577.80" stroke="#555" stroke-width="0.6" />
<line x1="675.95" y1="537.50" x2="680.35" y2="537.50" stroke="#555" stroke-width="0.6" />
<line x1="675.95" y1="577.80" x2="680.35" y2="577.80" stroke="#555" stroke-width="0.6" />
<rect x="673.40" y="550.30" width="9.50" height="11.40" fill="#B75A5F" stroke="#555" stroke-width="0.6" />
<line x1="673.40" y1="556.00" x2="682.90" y2="556.00" stroke="#555" stroke-width="0.7" />
<path d="M640.30,498.70 L640.30,496.20 L677.80,496.20 L677.80,498.70" stroke="#555" stroke-width="0.6" fill="none" />
<text x="659.05" y="498.60" text-anchor="middle" fill="#333" style="font-size:5.0px;" >*</text>
<text transform="translate(624.50,559.80) rotate(-90)" text-anchor="middle" fill="#111" style="font-size:4.8px;" >Histogram Skewness for ADC Values Within ET</text>
<text transform="translate(652.50,623.00) rotate(-20.5)" text-anchor="end" fill="#222" style="font-size:4.9px;" >GPR180 Low</text>
<text transform="translate(683.40,624.30) rotate(-20.5)" text-anchor="end" fill="#222" style="font-size:4.9px;" >GPR180 High</text>
<line x1="37.50" y1="671.50" x2="37.50" y2="793.00" stroke="#111" stroke-width="1.0" />
<line x1="37.50" y1="793.00" x2="172.50" y2="793.00" stroke="#111" stroke-width="1.0" />
<line x1="35.00" y1="674.60" x2="37.50" y2="674.60" stroke="#111" stroke-width="1.0" />
<text x="34.00" y="678.50" text-anchor="end" fill="#000" style="font-size:11.1px;" >1.00</text>
<line x1="35.00" y1="704.15" x2="37.50" y2="704.15" stroke="#111" stroke-width="1.0" />
<text x="34.00" y="708.05" text-anchor="end" fill="#000" style="font-size:11.1px;" >0.75</text>
<line x1="35.00" y1="733.70" x2="37.50" y2="733.70" stroke="#111" stroke-width="1.0" />
<text x="34.00" y="737.60" text-anchor="end" fill="#000" style="font-size:11.1px;" >0.50</text>
<line x1="35.00" y1="763.25" x2="37.50" y2="763.25" stroke="#111" stroke-width="1.0" />
<text x="34.00" y="767.15" text-anchor="end" fill="#000" style="font-size:11.1px;" >0.25</text>
<line x1="35.00" y1="792.80" x2="37.50" y2="792.80" stroke="#111" stroke-width="1.0" />
<text x="34.00" y="796.70" text-anchor="end" fill="#000" style="font-size:11.1px;" >0.00</text>
<line x1="37.80" y1="793.00" x2="37.80" y2="795.50" stroke="#111" stroke-width="1.0" />
<text x="37.80" y="804.30" text-anchor="middle" fill="#000" style="font-size:11.1px;" >0</text>
<line x1="80.74" y1="793.00" x2="80.74" y2="795.50" stroke="#111" stroke-width="1.0" />
<text x="80.74" y="804.30" text-anchor="middle" fill="#000" style="font-size:11.1px;" >2000</text>
<line x1="123.68" y1="793.00" x2="123.68" y2="795.50" stroke="#111" stroke-width="1.0" />
<text x="123.68" y="804.30" text-anchor="middle" fill="#000" style="font-size:11.1px;" >4000</text>
<line x1="166.62" y1="793.00" x2="166.62" y2="795.50" stroke="#111" stroke-width="1.0" />
<text x="166.62" y="804.30" text-anchor="middle" fill="#000" style="font-size:11.1px;" >6000</text>
<text x="102.40" y="666.70" text-anchor="middle" fill="#000" style="font-size:10.8px;" >TCGA low grade glioma</text>
<text x="108.30" y="815.50" text-anchor="middle" fill="#000" style="font-size:11.2px;" >Time (day)</text>
<text transform="translate(9.20,734.00) rotate(-90)" text-anchor="middle" fill="#000" style="font-size:11.2px;" >Survival probability</text>
<text x="39.30" y="786.00" text-anchor="start" fill="#000" style="font-size:11.1px;" >p = 0.0088</text>
<path d="M36.80,674.40 L39.70,675.60 L42.00,677.90 L44.30,680.30 L46.70,683.20 L49.00,687.90 L51.40,692.50 L53.70,697.20 L55.40,700.70 L57.20,703.00 L58.90,706.50 L60.70,709.50 L62.40,712.40 L64.20,717.10 L65.90,720.60 L67.70,722.90 L70.00,724.10 L72.40,725.20 L75.30,727.00 L77.60,728.70 L78.80,731.10 L80.50,734.00 L84.10,735.20 L87.60,736.90 L91.10,738.70 L95.00,739.50 L99.30,739.90 L99.30,749.20 L100.60,749.80 L101.20,752.90 L106.20,753.30 L106.40,756.20 L114.20,756.60 L114.60,759.50 L122.30,759.50 L122.90,763.40 L124.50,764.00 L125.10,772.10 L132.20,772.40 L132.80,776.50 L138.40,776.50 L138.70,780.50 L176.30,780.50" stroke="#F8766D" stroke-width="1.0" fill="none" stroke-linejoin="miter"/>
<path d="M90.07,736.77 V739.57 M41.00,675.50 V678.30 M39.82,674.32 V677.12 M41.45,675.95 V678.75 M88.35,735.89 V738.69 M77.14,726.96 V729.76 M73.24,724.32 V727.12 M60.17,707.22 V710.02 M55.81,699.83 V702.63 M72.21,723.71 V726.51 M92.59,737.61 V740.41 M85.59,734.52 V737.32 M72.71,723.99 V726.79 M56.03,700.10 V702.90 M92.08,737.50 V740.30 M79.48,730.86 V733.66 M116.14,758.10 V760.90 M102.49,751.60 V754.40 M138.49,776.25 V779.05 M100.25,748.24 V751.04 M137.93,775.10 V777.90 M145.90,779.10 V781.90 M168.87,779.10 V781.90 M157.17,779.10 V781.90" stroke="#F8766D" stroke-width="0.8" fill="none" />
<path d="M36.80,674.40 L42.00,678.50 L46.70,682.00 L50.20,684.90 L54.30,689.60 L58.40,693.10 L61.90,696.00 L65.40,699.50 L68.90,700.10 L69.50,703.00 L70.60,708.90 L74.70,711.20 L79.40,712.40 L81.70,714.10 L85.20,715.30 L86.40,719.40 L91.10,722.90 L95.00,726.80 L98.10,727.40 L98.70,729.90 L100.00,730.50 L100.00,734.30 L111.70,734.30 L111.70,739.50 L124.50,739.50 L124.80,752.90 L128.30,753.50 L128.30,761.20 L132.20,761.20 L132.20,769.40 L148.60,769.40 L148.60,777.30 L157.00,777.30" stroke="#00BFC4" stroke-width="1.2" fill="none" stroke-linejoin="miter"/>
<path d="M62.90,695.50 V698.50 M52.49,686.02 V689.02 M46.70,680.50 V683.50 M62.15,694.75 V697.75 M48.68,682.14 V685.14 M46.96,680.71 V683.71 M57.90,691.17 V694.17 M58.83,691.96 V694.96 M63.66,696.26 V699.26 M57.20,690.57 V693.57 M65.83,698.07 V701.07 M61.22,693.94 V696.94 M38.50,674.24 V677.24 M42.84,677.62 V680.62 M64.64,697.24 V700.24 M56.71,690.16 V693.16 M69.24,700.26 V703.26 M45.88,679.89 V682.89 M50.40,683.62 V686.62 M50.04,683.27 V686.27 M62.69,695.29 V698.29 M45.50,679.61 V682.61 M52.44,685.97 V688.97 M60.03,692.95 V695.95 M48.29,681.82 V684.82 M46.58,680.41 V683.41 M43.03,677.77 V680.77 M67.46,698.35 V701.35 M62.43,695.03 V698.03 M63.06,695.66 V698.66 M47.23,680.94 V683.94 M42.50,677.37 V680.37 M66.50,698.19 V701.19 M69.77,702.95 V705.95 M42.70,677.52 V680.52 M69.21,700.11 V703.11 M63.51,696.11 V699.11 M55.53,689.15 V692.15 M62.87,695.47 V698.47 M54.00,687.76 V690.76 M102.07,732.80 V735.80 M102.40,732.80 V735.80 M99.09,728.58 V731.58 M92.90,723.20 V726.20 M117.26,738.00 V741.00 M113.33,738.00 V741.00 M128.94,759.70 V762.70 M88.57,719.51 V722.51 M73.45,709.00 V712.00 M93.73,724.03 V727.03 M112.50,738.00 V741.00 M125.56,751.53 V754.53 M105.18,732.80 V735.80 M70.56,707.20 V710.20 M140.39,767.90 V770.90 M144.60,767.90 V770.90 M144.48,767.90 V770.90" stroke="#00BFC4" stroke-width="1.0" fill="none" />
<line x1="73.80" y1="684.30" x2="80.60" y2="684.30" stroke="#F8766D" stroke-width="0.75" />
<line x1="77.20" y1="681.00" x2="77.20" y2="687.60" stroke="#F8766D" stroke-width="0.75" />
<line x1="73.80" y1="696.70" x2="80.60" y2="696.70" stroke="#00BFC4" stroke-width="0.75" />
<line x1="77.20" y1="693.40" x2="77.20" y2="700.00" stroke="#00BFC4" stroke-width="0.75" />
<text x="83.5" y="688.2" style="font-size:11.1px" fill="#000"><tspan style="font-style:italic">GPR180</tspan> high (263)</text>
<text x="83.5" y="700.6" style="font-size:11.1px" fill="#000"><tspan style="font-style:italic">GPR180</tspan> low (262)</text>
<line x1="221.90" y1="672.00" x2="221.90" y2="793.30" stroke="#555" stroke-width="0.8" />
<line x1="221.90" y1="793.30" x2="423.70" y2="793.30" stroke="#555" stroke-width="0.8" />
<line x1="219.40" y1="675.00" x2="221.90" y2="675.00" stroke="#555" stroke-width="0.8" />
<text x="218.40" y="678.90" text-anchor="end" fill="#000" style="font-size:11.1px;" >1.00</text>
<line x1="219.40" y1="704.57" x2="221.90" y2="704.57" stroke="#555" stroke-width="0.8" />
<text x="218.40" y="708.47" text-anchor="end" fill="#000" style="font-size:11.1px;" >0.75</text>
<line x1="219.40" y1="734.15" x2="221.90" y2="734.15" stroke="#555" stroke-width="0.8" />
<text x="218.40" y="738.05" text-anchor="end" fill="#000" style="font-size:11.1px;" >0.50</text>
<line x1="219.40" y1="763.72" x2="221.90" y2="763.72" stroke="#555" stroke-width="0.8" />
<text x="218.40" y="767.62" text-anchor="end" fill="#000" style="font-size:11.1px;" >0.25</text>
<line x1="219.40" y1="793.30" x2="221.90" y2="793.30" stroke="#555" stroke-width="0.8" />
<text x="218.40" y="797.20" text-anchor="end" fill="#000" style="font-size:11.1px;" >0.00</text>
<line x1="222.00" y1="793.30" x2="222.00" y2="795.80" stroke="#555" stroke-width="0.8" />
<text x="222.00" y="804.60" text-anchor="middle" fill="#000" style="font-size:11.1px;" >0</text>
<line x1="285.10" y1="793.30" x2="285.10" y2="795.80" stroke="#555" stroke-width="0.8" />
<text x="285.10" y="804.60" text-anchor="middle" fill="#000" style="font-size:11.1px;" >2000</text>
<line x1="348.20" y1="793.30" x2="348.20" y2="795.80" stroke="#555" stroke-width="0.8" />
<text x="348.20" y="804.60" text-anchor="middle" fill="#000" style="font-size:11.1px;" >4000</text>
<line x1="411.30" y1="793.30" x2="411.30" y2="795.80" stroke="#555" stroke-width="0.8" />
<text x="411.30" y="804.60" text-anchor="middle" fill="#000" style="font-size:11.1px;" >6000</text>
<line x1="221.90" y1="672.00" x2="221.90" y2="793.30" stroke="#ddd" stroke-width="1.6" />
<text x="313.20" y="666.70" text-anchor="middle" fill="#000" style="font-size:10.8px;" >TCGA astrocytoma</text>
<text x="317.00" y="815.50" text-anchor="middle" fill="#000" style="font-size:11.2px;" >Time (day)</text>
<text transform="translate(193.60,734.50) rotate(-90)" text-anchor="middle" fill="#000" style="font-size:11.2px;" >Survival probability</text>
<text x="224.50" y="786.30" text-anchor="start" fill="#000" style="font-size:11.1px;" >p = 5.437e-3</text>
<path d="M221.85,675.01 L225.01,675.01 L226.76,678.51 L228.16,682.89 L229.39,687.27 L232.02,690.78 L233.77,693.40 L235.52,696.91 L238.15,700.41 L240.78,703.91 L244.28,706.54 L246.03,710.92 L247.78,714.43 L249.53,716.18 L252.16,717.93 L254.79,720.56 L257.42,724.06 L259.17,728.44 L260.05,731.95 L262.67,732.82 L263.55,739.83 L270.56,740.35 L274.06,740.70 L274.41,745.08 L280.19,745.96 L281.42,750.87 L290.70,751.22 L291.58,758.22 L297.71,758.22 L298.59,765.23 L315.23,765.23 L315.76,772.24 L315.60,772.10 L423.70,772.10" stroke="#E64B35" stroke-width="0.7" fill="none" stroke-linejoin="miter"/>
<path d="M239.05,700.21 V703.01 M225.01,673.61 V676.41 M241.11,702.77 V705.57 M247.01,711.48 V714.28 M234.46,693.38 V696.18 M262.00,731.20 V734.00 M237.41,698.02 V700.82 M246.30,710.05 V712.85 M231.69,688.94 V691.74 M232.21,689.67 V692.47 M226.43,676.44 V679.24 M260.68,730.76 V733.56 M235.91,696.03 V698.83 M249.74,714.91 V717.71 M239.23,700.45 V703.25 M259.42,728.05 V730.85 M263.13,735.10 V737.90 M233.82,692.11 V694.91 M266.29,738.63 V741.43 M245.68,708.64 V711.44 M263.59,738.43 V741.23 M239.84,701.27 V704.07 M297.81,757.57 V760.37 M274.90,743.76 V746.56 M288.95,749.75 V752.55 M271.82,739.08 V741.88 M286.83,749.67 V752.47 M306.43,763.83 V766.63" stroke="#E64B35" stroke-width="0.8" fill="none" />
<path d="M221.85,675.01 L225.88,675.88 L228.51,679.39 L232.02,682.02 L235.52,683.77 L239.90,684.99 L240.78,688.67 L244.28,689.90 L247.78,693.40 L251.29,696.38 L254.79,698.13 L257.42,700.41 L260.92,703.04 L268.81,703.91 L270.21,714.43 L276.69,714.43 L277.57,719.68 L281.07,720.03 L281.95,726.69 L286.33,726.69 L286.68,733.70 L309.98,733.70 L310.50,745.08 L310.40,745.50 L360.30,745.50 L360.30,793.30" stroke="#3C8CE5" stroke-width="0.7" fill="none" stroke-linejoin="miter"/>
<path d="M226.70,675.58 V678.38 M232.23,680.72 V683.52 M265.54,702.15 V704.95 M250.27,694.12 V696.92 M251.34,695.01 V697.81 M232.68,680.95 V683.75 M268.27,702.46 V705.26 M235.99,682.50 V685.30 M226.86,675.78 V678.58 M244.34,688.56 V691.36 M251.66,695.17 V697.97 M252.44,695.56 V698.36 M228.55,678.01 V680.81 M264.19,702.00 V704.80 M238.94,683.33 V686.13 M271.73,713.03 V715.83 M240.91,687.32 V690.12 M223.38,673.94 V676.74 M223.74,674.02 V676.82 M240.48,686.04 V688.84 M257.28,698.89 V701.69 M246.34,690.56 V693.36 M264.28,702.01 V704.81 M266.74,702.28 V705.08 M265.15,702.11 V704.91 M309.11,732.30 V735.10 M325.48,744.10 V746.90 M312.97,744.10 V746.90 M277.22,716.19 V718.99 M290.49,732.30 V735.10 M285.53,725.29 V728.09 M330.90,744.10 V746.90 M339.21,744.10 V746.90" stroke="#3C8CE5" stroke-width="0.8" fill="none" />
<line x1="313.00" y1="683.70" x2="320.70" y2="683.70" stroke="#E64B35" stroke-width="0.75" />
<line x1="316.90" y1="680.30" x2="316.90" y2="687.10" stroke="#E64B35" stroke-width="0.75" />
<line x1="313.00" y1="695.40" x2="320.70" y2="695.40" stroke="#3C8CE5" stroke-width="0.75" />
<line x1="316.90" y1="692.00" x2="316.90" y2="698.80" stroke="#3C8CE5" stroke-width="0.75" />
<text x="323.8" y="687.6" style="font-size:11.1px" fill="#000"><tspan style="font-style:italic">GPR180</tspan> high (97)</text>
<text x="323.8" y="699.3" style="font-size:11.1px" fill="#000"><tspan style="font-style:italic">GPR180</tspan> low (97)</text>
<line x1="482.20" y1="672.00" x2="482.20" y2="792.80" stroke="#555" stroke-width="0.8" />
<line x1="482.20" y1="792.80" x2="685.00" y2="792.80" stroke="#555" stroke-width="0.8" />
<line x1="479.70" y1="674.60" x2="482.20" y2="674.60" stroke="#555" stroke-width="0.8" />
<text x="478.70" y="678.50" text-anchor="end" fill="#000" style="font-size:11.1px;" >1.00</text>
<line x1="479.70" y1="704.15" x2="482.20" y2="704.15" stroke="#555" stroke-width="0.8" />
<text x="478.70" y="708.05" text-anchor="end" fill="#000" style="font-size:11.1px;" >0.75</text>
<line x1="479.70" y1="733.70" x2="482.20" y2="733.70" stroke="#555" stroke-width="0.8" />
<text x="478.70" y="737.60" text-anchor="end" fill="#000" style="font-size:11.1px;" >0.50</text>
<line x1="479.70" y1="763.25" x2="482.20" y2="763.25" stroke="#555" stroke-width="0.8" />
<text x="478.70" y="767.15" text-anchor="end" fill="#000" style="font-size:11.1px;" >0.25</text>
<line x1="479.70" y1="792.80" x2="482.20" y2="792.80" stroke="#555" stroke-width="0.8" />
<text x="478.70" y="796.70" text-anchor="end" fill="#000" style="font-size:11.1px;" >0.00</text>
<line x1="482.20" y1="792.80" x2="482.20" y2="795.30" stroke="#555" stroke-width="0.8" />
<text x="482.20" y="804.10" text-anchor="middle" fill="#000" style="font-size:11.1px;" >0</text>
<line x1="536.45" y1="792.80" x2="536.45" y2="795.30" stroke="#555" stroke-width="0.8" />
<text x="536.45" y="804.10" text-anchor="middle" fill="#000" style="font-size:11.1px;" >1000</text>
<line x1="590.70" y1="792.80" x2="590.70" y2="795.30" stroke="#555" stroke-width="0.8" />
<text x="590.70" y="804.10" text-anchor="middle" fill="#000" style="font-size:11.1px;" >2000</text>
<line x1="644.95" y1="792.80" x2="644.95" y2="795.30" stroke="#555" stroke-width="0.8" />
<text x="644.95" y="804.10" text-anchor="middle" fill="#000" style="font-size:11.1px;" >3000</text>
<line x1="482.20" y1="672.00" x2="482.20" y2="792.80" stroke="#ddd" stroke-width="1.4" />
<text x="586.00" y="666.70" text-anchor="middle" fill="#000" style="font-size:10.8px;" >TCGA astrocytoma</text>
<text x="573.50" y="815.50" text-anchor="middle" fill="#000" style="font-size:11.2px;" >Time (day)</text>
<text transform="translate(440.10,735.80) rotate(-90)" text-anchor="middle" fill="#000" style="font-size:11.0px;" >Progression-free</text>
<text transform="translate(454.40,735.30) rotate(-90)" text-anchor="middle" fill="#000" style="font-size:11.0px;" >survival probability</text>
<text x="485.90" y="786.00" text-anchor="start" fill="#000" style="font-size:11.1px;" >p = 0.0216</text>
<path d="M482.38,675.01 L485.88,675.88 L488.51,678.51 L490.26,682.02 L492.02,684.64 L492.89,692.53 L493.42,696.03 L494.64,698.66 L497.27,700.41 L499.90,705.67 L502.53,709.17 L504.28,713.55 L506.03,717.05 L508.66,718.81 L509.53,723.19 L511.29,725.81 L517.42,725.81 L519.17,729.32 L520.05,732.82 L520.92,738.08 L526.18,738.95 L528.81,740.70 L532.31,741.58 L533.71,745.08 L535.81,749.46 L541.07,750.34 L542.82,752.97 L544.57,756.47 L547.20,759.98 L567.35,759.98 L568.22,766.11 L569.10,773.12 L598.01,773.12 L685.00,773.12" stroke="#E64B35" stroke-width="0.7" fill="none" stroke-linejoin="miter"/>
<path d="M521.51,736.77 V739.57 M496.25,698.33 V701.13 M548.28,758.58 V761.38 M510.93,723.88 V726.68 M500.34,704.85 V707.65 M538.22,748.46 V751.26 M495.43,697.78 V700.58 M555.45,758.58 V761.38 M555.41,758.58 V761.38 M486.62,675.22 V678.02 M525.12,737.38 V740.18 M484.17,674.05 V676.85 M553.69,758.58 V761.38 M502.12,707.22 V710.02 M522.04,736.86 V739.66 M539.69,748.71 V751.51 M541.41,749.45 V752.25 M519.71,730.06 V732.86 M564.04,758.58 V761.38 M572.71,771.72 V774.52 M560.23,758.58 V761.38 M567.96,762.84 V765.64 M663.60,771.72 V774.52 M650.13,771.72 V774.52" stroke="#E64B35" stroke-width="0.8" fill="none" />
<path d="M482.38,675.01 L485.88,675.88 L487.64,679.39 L490.26,682.02 L492.89,684.64 L495.52,688.15 L497.27,692.53 L499.90,696.91 L502.53,698.66 L506.03,700.41 L507.78,704.79 L510.41,708.29 L513.04,710.92 L518.29,711.45 L520.92,713.20 L524.43,714.95 L527.05,717.05 L528.81,719.68 L531.43,722.31 L534.06,724.94 L538.44,726.69 L542.82,728.44 L544.57,730.19 L548.08,733.70 L551.58,735.45 L555.08,738.95 L561.22,738.95 L562.09,743.33 L562.97,749.46 L569.98,749.46 L570.50,755.95 L598.01,755.95 L675.00,755.95" stroke="#3C8CE5" stroke-width="0.7" fill="none" stroke-linejoin="miter"/>
<path d="M517.30,709.95 V712.75 M534.20,723.59 V726.39 M519.66,710.96 V713.76 M511.74,708.22 V711.02 M513.20,709.54 V712.34 M512.00,708.48 V711.28 M512.37,708.86 V711.66 M517.31,709.95 V712.75 M546.60,730.82 V733.62 M555.14,737.55 V740.35 M553.37,735.84 V738.64 M519.43,710.81 V713.61 M555.01,737.48 V740.28 M545.91,730.13 V732.93 M494.56,685.46 V688.26 M548.63,732.57 V735.37 M488.22,678.57 V681.37 M531.49,720.97 V723.77 M511.85,708.33 V711.13 M541.93,726.68 V729.48 M544.27,728.49 V731.29 M558.64,737.55 V740.35 M556.08,737.55 V740.35 M512.81,709.29 V712.09 M483.74,673.95 V676.75 M488.01,678.36 V681.16 M559.78,737.55 V740.35 M507.81,703.42 V706.22 M500.71,696.05 V698.85 M491.25,681.60 V684.40 M580.98,754.55 V757.35 M579.96,754.55 V757.35 M592.08,754.55 V757.35 M613.52,754.55 V757.35 M633.85,754.55 V757.35 M666.70,754.55 V757.35 M632.92,754.55 V757.35" stroke="#3C8CE5" stroke-width="0.8" fill="none" />
<line x1="573.20" y1="682.00" x2="580.90" y2="682.00" stroke="#E64B35" stroke-width="0.75" />
<line x1="577.00" y1="678.60" x2="577.00" y2="685.40" stroke="#E64B35" stroke-width="0.75" />
<line x1="573.20" y1="693.70" x2="580.90" y2="693.70" stroke="#3C8CE5" stroke-width="0.75" />
<line x1="577.00" y1="690.30" x2="577.00" y2="697.10" stroke="#3C8CE5" stroke-width="0.75" />
<text x="584.3" y="686" style="font-size:11.1px" fill="#000"><tspan style="font-style:italic">GPR180</tspan> high (97)</text>
<text x="584.3" y="697.7" style="font-size:11.1px" fill="#000"><tspan style="font-style:italic">GPR180</tspan> low (97)</text>
</svg></body></html>
